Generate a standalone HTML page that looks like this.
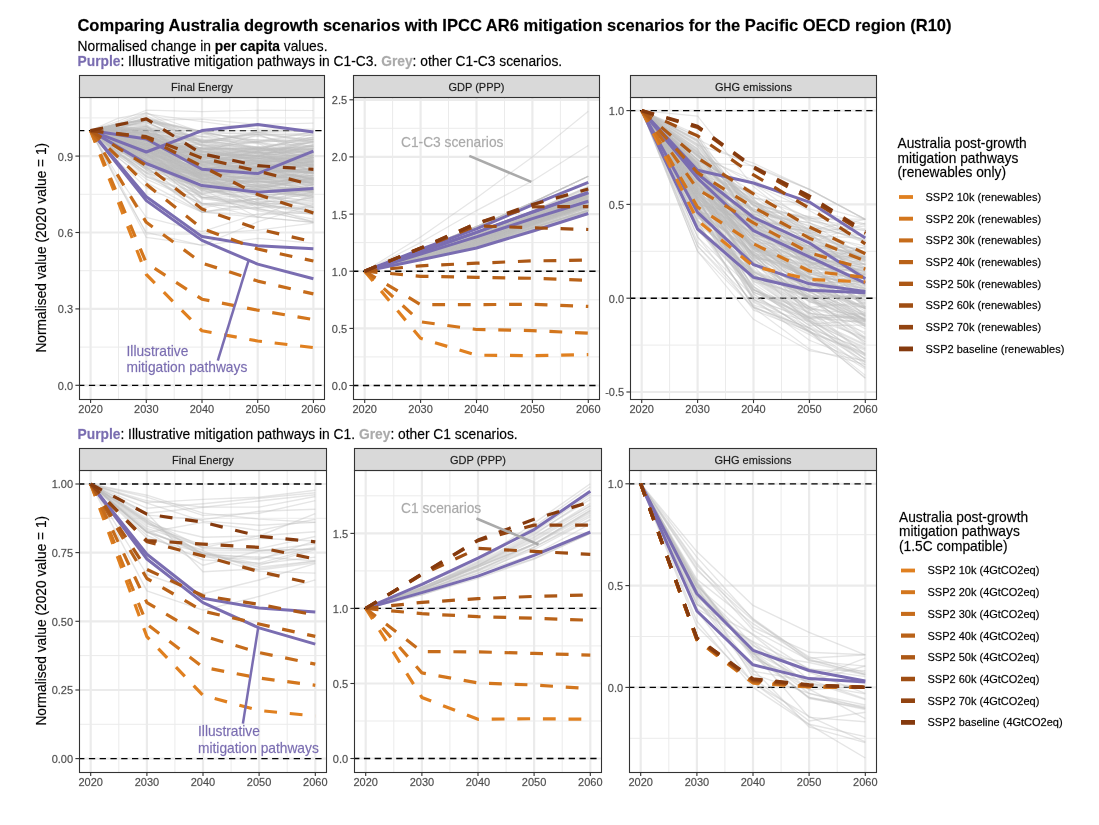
<!DOCTYPE html>
<html><head><meta charset="utf-8"><title>Australia degrowth vs IPCC AR6 scenarios</title>
<style>html,body{margin:0;padding:0;background:#fff;} svg{display:block;} #wrap{will-change:transform;opacity:0.999;} text{font-family:'Liberation Sans', Arial, Helvetica, sans-serif;stroke-width:0.3px;stroke-opacity:0.55;}</style>
</head><body>
<div id="wrap"><svg width="1099" height="825" viewBox="0 0 1099 825">
<rect x="0" y="0" width="1099" height="825" fill="#fff"/>
<defs>
<clipPath id="ctFE"><rect x="79.5" y="97.5" width="245.0" height="302.0"/></clipPath>
<clipPath id="ctGDP"><rect x="353.5" y="97.5" width="246.0" height="302.0"/></clipPath>
<clipPath id="ctGHG"><rect x="630.5" y="97.5" width="246.0" height="302.0"/></clipPath>
<clipPath id="cbFE"><rect x="79.5" y="470.5" width="247.0" height="302.0"/></clipPath>
<clipPath id="cbGDP"><rect x="354.5" y="470.5" width="247.0" height="302.0"/></clipPath>
<clipPath id="cbGHG"><rect x="629.5" y="470.5" width="247.0" height="302.0"/></clipPath>
</defs>
<text x="77.4" y="30.7" font-size="16.55" font-weight="bold" fill="#000" stroke="#000">Comparing Australia degrowth scenarios with IPCC AR6 mitigation scenarios for the Pacific OECD region (R10)</text>
<text x="77.5" y="50.5" font-size="13.8" fill="#000" stroke="#000">Normalised change in <tspan font-weight="bold">per capita</tspan> values.</text>
<text x="77.5" y="66" font-size="13.8" fill="#000" stroke="#000"><tspan font-weight="bold" fill="#7a6db1" stroke="#7a6db1">Purple</tspan>: Illustrative mitigation pathways in C1-C3. <tspan font-weight="bold" fill="#aaaaaa" stroke="#aaaaaa">Grey</tspan>: other C1-C3 scenarios.</text>
<text x="77.5" y="438.9" font-size="13.8" fill="#000" stroke="#000"><tspan font-weight="bold" fill="#7a6db1" stroke="#7a6db1">Purple</tspan>: Illustrative mitigation pathways in C1. <tspan font-weight="bold" fill="#aaaaaa" stroke="#aaaaaa">Grey</tspan>: other C1 scenarios.</text>
<text transform="translate(46,247.7) rotate(-90)" text-anchor="middle" font-size="13.75" fill="#000" stroke="#000">Normalised value (2020 value = 1)</text>
<text transform="translate(46,620.7) rotate(-90)" text-anchor="middle" font-size="13.75" fill="#000" stroke="#000">Normalised value (2020 value = 1)</text>
<g>
<rect x="79.5" y="97.5" width="245.0" height="302.0" fill="#fff"/>
<line x1="79.5" x2="324.5" y1="347.1" y2="347.1" stroke="#ebebeb" stroke-width="1"/><line x1="79.5" x2="324.5" y1="270.7" y2="270.7" stroke="#ebebeb" stroke-width="1"/><line x1="79.5" x2="324.5" y1="194.3" y2="194.3" stroke="#ebebeb" stroke-width="1"/><line x1="79.5" x2="324.5" y1="117.9" y2="117.9" stroke="#ebebeb" stroke-width="1"/><line x1="118.5" x2="118.5" y1="97.5" y2="399.5" stroke="#ebebeb" stroke-width="1"/><line x1="174.2" x2="174.2" y1="97.5" y2="399.5" stroke="#ebebeb" stroke-width="1"/><line x1="229.8" x2="229.8" y1="97.5" y2="399.5" stroke="#ebebeb" stroke-width="1"/><line x1="285.5" x2="285.5" y1="97.5" y2="399.5" stroke="#ebebeb" stroke-width="1"/><line x1="79.5" x2="324.5" y1="385.3" y2="385.3" stroke="#ebebeb" stroke-width="2.2"/><line x1="79.5" x2="324.5" y1="308.9" y2="308.9" stroke="#ebebeb" stroke-width="2.2"/><line x1="79.5" x2="324.5" y1="232.5" y2="232.5" stroke="#ebebeb" stroke-width="2.2"/><line x1="79.5" x2="324.5" y1="156.1" y2="156.1" stroke="#ebebeb" stroke-width="2.2"/><line x1="90.6" x2="90.6" y1="97.5" y2="399.5" stroke="#ebebeb" stroke-width="2.2"/><line x1="146.3" x2="146.3" y1="97.5" y2="399.5" stroke="#ebebeb" stroke-width="2.2"/><line x1="202.0" x2="202.0" y1="97.5" y2="399.5" stroke="#ebebeb" stroke-width="2.2"/><line x1="257.7" x2="257.7" y1="97.5" y2="399.5" stroke="#ebebeb" stroke-width="2.2"/><line x1="313.4" x2="313.4" y1="97.5" y2="399.5" stroke="#ebebeb" stroke-width="2.2"/>
<g clip-path="url(#ctFE)" fill="none" stroke-linejoin="round">
<line x1="78.1" x2="324.5" y1="385.3" y2="385.3" stroke="#000" stroke-width="1.35" stroke-dasharray="6.3 4.48"/>
<line x1="78.1" x2="324.5" y1="130.6" y2="130.6" stroke="#000" stroke-width="1.35" stroke-dasharray="6.3 4.48"/>
<g stroke="#bebebe" stroke-width="1.2" stroke-opacity="0.38">
<polyline points="90.6,130.6 118.5,177.3 146.3,217.3 202.0,231.6 257.7,213.8 313.4,211.4"/><polyline points="90.6,130.6 118.5,184.8 146.3,232.3 202.0,245.4 257.7,238.4 313.4,243.1"/><polyline points="90.6,130.6 118.5,184.3 146.3,237.4 202.0,245.1 257.7,221.9 313.4,204.2"/><polyline points="90.6,130.6 118.5,162.0 146.3,187.6 202.0,212.2 257.7,207.4 313.4,207.7"/><polyline points="90.6,130.6 118.5,181.5 146.3,233.8 202.0,234.2 257.7,230.1 313.4,223.1"/><polyline points="90.6,130.6 118.5,123.7 146.3,120.1 202.0,119.1 257.7,124.5 313.4,123.2"/><polyline points="90.6,130.6 118.5,124.2 146.3,113.9 202.0,121.6 257.7,129.1 313.4,129.1"/><polyline points="90.6,130.6 118.5,121.0 146.3,110.2 202.0,111.7 257.7,110.2 313.4,110.5"/><polyline points="90.6,130.6 118.5,123.6 146.3,120.3 202.0,139.7 257.7,148.6 313.4,136.8"/><polyline points="90.6,130.6 118.5,124.4 146.3,118.4 202.0,132.6 257.7,149.7 313.4,137.1"/><polyline points="90.6,130.6 118.5,124.2 146.3,120.6 202.0,131.7 257.7,134.5 313.4,155.5"/><polyline points="90.6,130.6 118.5,124.6 146.3,118.4 202.0,142.4 257.7,154.1 313.4,163.7"/><polyline points="90.6,130.6 118.5,126.1 146.3,119.1 202.0,131.1 257.7,130.6 313.4,130.6"/><polyline points="90.6,130.6 118.5,123.9 146.3,120.1 202.0,142.0 257.7,131.9 313.4,130.6"/><polyline points="90.6,130.6 118.5,125.6 146.3,117.8 202.0,140.9 257.7,134.7 313.4,135.1"/><polyline points="90.6,130.6 118.5,123.9 146.3,115.6 202.0,141.9 257.7,149.0 313.4,146.5"/><polyline points="90.6,130.6 118.5,122.8 146.3,112.8 202.0,132.5 257.7,140.9 313.4,137.6"/><polyline points="90.6,130.6 118.5,146.3 146.3,165.6 202.0,174.6 257.7,178.5 313.4,182.9"/><polyline points="90.6,130.6 118.5,136.7 146.3,146.5 202.0,170.4 257.7,156.4 313.4,161.2"/><polyline points="90.6,130.6 118.5,137.7 146.3,140.9 202.0,161.6 257.7,168.7 313.4,173.3"/><polyline points="90.6,130.6 118.5,141.5 146.3,153.2 202.0,203.8 257.7,198.6 313.4,211.5"/><polyline points="90.6,130.6 118.5,134.7 146.3,140.5 202.0,168.8 257.7,159.0 313.4,144.3"/><polyline points="90.6,130.6 118.5,143.3 146.3,154.7 202.0,170.6 257.7,158.3 313.4,154.1"/><polyline points="90.6,130.6 118.5,125.1 146.3,120.8 202.0,151.1 257.7,159.7 313.4,166.7"/><polyline points="90.6,130.6 118.5,139.0 146.3,143.7 202.0,158.4 257.7,161.2 313.4,164.4"/><polyline points="90.6,130.6 118.5,134.6 146.3,138.2 202.0,175.0 257.7,177.7 313.4,173.7"/><polyline points="90.6,130.6 118.5,143.4 146.3,150.6 202.0,171.5 257.7,161.5 313.4,155.4"/><polyline points="90.6,130.6 118.5,141.3 146.3,151.2 202.0,149.0 257.7,149.8 313.4,149.6"/><polyline points="90.6,130.6 118.5,128.9 146.3,132.1 202.0,148.4 257.7,147.7 313.4,156.8"/><polyline points="90.6,130.6 118.5,136.3 146.3,137.7 202.0,152.6 257.7,134.5 313.4,151.6"/><polyline points="90.6,130.6 118.5,146.3 146.3,162.2 202.0,190.5 257.7,194.3 313.4,193.9"/><polyline points="90.6,130.6 118.5,131.8 146.3,129.2 202.0,161.6 257.7,161.1 313.4,162.8"/><polyline points="90.6,130.6 118.5,143.8 146.3,156.9 202.0,181.1 257.7,190.1 313.4,187.8"/><polyline points="90.6,130.6 118.5,149.5 146.3,165.8 202.0,194.1 257.7,183.6 313.4,193.4"/><polyline points="90.6,130.6 118.5,154.1 146.3,167.5 202.0,181.3 257.7,186.8 313.4,195.6"/><polyline points="90.6,130.6 118.5,136.9 146.3,136.8 202.0,168.3 257.7,165.1 313.4,183.6"/><polyline points="90.6,130.6 118.5,142.8 146.3,153.8 202.0,187.9 257.7,181.2 313.4,185.3"/><polyline points="90.6,130.6 118.5,154.3 146.3,171.7 202.0,212.1 257.7,202.9 313.4,214.0"/><polyline points="90.6,130.6 118.5,132.5 146.3,132.5 202.0,166.2 257.7,172.2 313.4,171.5"/><polyline points="90.6,130.6 118.5,137.8 146.3,145.9 202.0,171.6 257.7,181.1 313.4,188.4"/><polyline points="90.6,130.6 118.5,129.4 146.3,126.3 202.0,165.1 257.7,166.1 313.4,161.4"/><polyline points="90.6,130.6 118.5,130.2 146.3,135.1 202.0,157.4 257.7,161.3 313.4,167.9"/><polyline points="90.6,130.6 118.5,127.6 146.3,121.7 202.0,151.2 257.7,160.6 313.4,155.7"/><polyline points="90.6,130.6 118.5,135.9 146.3,150.2 202.0,179.7 257.7,195.6 313.4,190.1"/><polyline points="90.6,130.6 118.5,143.7 146.3,159.3 202.0,193.6 257.7,187.1 313.4,190.3"/><polyline points="90.6,130.6 118.5,148.4 146.3,170.1 202.0,192.6 257.7,185.7 313.4,198.4"/><polyline points="90.6,130.6 118.5,138.1 146.3,149.1 202.0,165.9 257.7,158.6 313.4,160.9"/><polyline points="90.6,130.6 118.5,142.1 146.3,161.2 202.0,175.8 257.7,184.9 313.4,185.8"/><polyline points="90.6,130.6 118.5,152.5 146.3,176.5 202.0,203.7 257.7,204.0 313.4,187.5"/><polyline points="90.6,130.6 118.5,128.4 146.3,126.6 202.0,144.8 257.7,153.0 313.4,157.6"/><polyline points="90.6,130.6 118.5,138.7 146.3,148.3 202.0,162.9 257.7,156.8 313.4,141.5"/><polyline points="90.6,130.6 118.5,141.4 146.3,145.3 202.0,162.0 257.7,151.2 313.4,148.8"/><polyline points="90.6,130.6 118.5,136.3 146.3,140.0 202.0,174.6 257.7,189.2 313.4,177.4"/><polyline points="90.6,130.6 118.5,139.9 146.3,141.4 202.0,151.9 257.7,152.6 313.4,152.7"/><polyline points="90.6,130.6 118.5,133.2 146.3,142.4 202.0,161.4 257.7,156.2 313.4,165.3"/><polyline points="90.6,130.6 118.5,145.5 146.3,163.3 202.0,188.3 257.7,189.2 313.4,199.4"/><polyline points="90.6,130.6 118.5,152.9 146.3,172.6 202.0,172.8 257.7,163.3 313.4,165.4"/><polyline points="90.6,130.6 118.5,151.5 146.3,163.0 202.0,181.3 257.7,175.2 313.4,181.2"/><polyline points="90.6,130.6 118.5,142.9 146.3,156.9 202.0,171.8 257.7,193.6 313.4,207.5"/><polyline points="90.6,130.6 118.5,135.7 146.3,140.2 202.0,145.5 257.7,141.5 313.4,154.3"/><polyline points="90.6,130.6 118.5,143.0 146.3,154.5 202.0,151.4 257.7,167.4 313.4,157.7"/><polyline points="90.6,130.6 118.5,137.4 146.3,143.0 202.0,175.7 257.7,162.2 313.4,172.8"/><polyline points="90.6,130.6 118.5,139.0 146.3,141.6 202.0,178.0 257.7,175.2 313.4,175.3"/><polyline points="90.6,130.6 118.5,125.8 146.3,123.1 202.0,142.3 257.7,132.3 313.4,133.8"/><polyline points="90.6,130.6 118.5,130.7 146.3,135.7 202.0,157.1 257.7,163.2 313.4,158.1"/><polyline points="90.6,130.6 118.5,146.5 146.3,149.9 202.0,194.5 257.7,203.8 313.4,222.3"/><polyline points="90.6,130.6 118.5,137.9 146.3,144.4 202.0,160.4 257.7,158.4 313.4,167.0"/><polyline points="90.6,130.6 118.5,141.5 146.3,148.3 202.0,187.4 257.7,205.7 313.4,209.4"/><polyline points="90.6,130.6 118.5,141.3 146.3,149.9 202.0,189.1 257.7,178.7 313.4,175.0"/><polyline points="90.6,130.6 118.5,127.4 146.3,126.1 202.0,173.3 257.7,186.1 313.4,189.1"/><polyline points="90.6,130.6 118.5,129.6 146.3,130.8 202.0,169.4 257.7,170.9 313.4,149.0"/><polyline points="90.6,130.6 118.5,148.5 146.3,158.7 202.0,182.8 257.7,180.4 313.4,192.6"/><polyline points="90.6,130.6 118.5,134.4 146.3,144.8 202.0,154.7 257.7,151.5 313.4,171.9"/><polyline points="90.6,130.6 118.5,138.1 146.3,136.9 202.0,164.1 257.7,169.9 313.4,170.4"/><polyline points="90.6,130.6 118.5,132.0 146.3,136.4 202.0,148.7 257.7,156.0 313.4,159.6"/><polyline points="90.6,130.6 118.5,147.3 146.3,167.3 202.0,207.8 257.7,198.5 313.4,188.5"/><polyline points="90.6,130.6 118.5,135.5 146.3,144.7 202.0,165.1 257.7,152.9 313.4,157.9"/><polyline points="90.6,130.6 118.5,142.4 146.3,150.3 202.0,176.9 257.7,178.7 313.4,184.5"/><polyline points="90.6,130.6 118.5,137.6 146.3,146.5 202.0,164.9 257.7,155.8 313.4,165.0"/><polyline points="90.6,130.6 118.5,147.4 146.3,159.3 202.0,174.9 257.7,172.9 313.4,169.1"/><polyline points="90.6,130.6 118.5,148.2 146.3,159.2 202.0,204.1 257.7,208.6 313.4,222.3"/><polyline points="90.6,130.6 118.5,138.0 146.3,143.6 202.0,147.8 257.7,141.9 313.4,161.1"/><polyline points="90.6,130.6 118.5,133.2 146.3,135.7 202.0,151.6 257.7,155.7 313.4,138.4"/><polyline points="90.6,130.6 118.5,131.2 146.3,139.6 202.0,156.2 257.7,158.5 313.4,166.6"/><polyline points="90.6,130.6 118.5,129.5 146.3,132.1 202.0,172.9 257.7,166.7 313.4,161.6"/><polyline points="90.6,130.6 118.5,133.0 146.3,146.8 202.0,171.8 257.7,168.9 313.4,157.3"/><polyline points="90.6,130.6 118.5,150.1 146.3,163.6 202.0,176.3 257.7,170.6 313.4,171.3"/><polyline points="90.6,130.6 118.5,136.7 146.3,149.1 202.0,178.9 257.7,176.3 313.4,175.8"/><polyline points="90.6,130.6 118.5,135.1 146.3,142.1 202.0,179.8 257.7,182.2 313.4,180.0"/><polyline points="90.6,130.6 118.5,134.0 146.3,138.9 202.0,140.8 257.7,139.5 313.4,142.0"/><polyline points="90.6,130.6 118.5,139.2 146.3,143.3 202.0,154.1 257.7,158.3 313.4,158.9"/><polyline points="90.6,130.6 118.5,141.8 146.3,160.9 202.0,181.0 257.7,193.2 313.4,189.3"/><polyline points="90.6,130.6 118.5,136.2 146.3,144.2 202.0,163.1 257.7,169.1 313.4,184.3"/><polyline points="90.6,130.6 118.5,136.4 146.3,152.8 202.0,171.5 257.7,167.4 313.4,159.4"/><polyline points="90.6,130.6 118.5,139.7 146.3,143.3 202.0,160.5 257.7,175.0 313.4,168.2"/><polyline points="90.6,130.6 118.5,144.7 146.3,160.1 202.0,174.3 257.7,200.9 313.4,202.9"/><polyline points="90.6,130.6 118.5,147.5 146.3,155.1 202.0,162.0 257.7,171.1 313.4,169.5"/><polyline points="90.6,130.6 118.5,149.0 146.3,168.4 202.0,177.7 257.7,168.9 313.4,179.6"/><polyline points="90.6,130.6 118.5,148.0 146.3,167.4 202.0,205.6 257.7,198.9 313.4,192.8"/><polyline points="90.6,130.6 118.5,140.5 146.3,147.7 202.0,170.3 257.7,179.4 313.4,170.7"/><polyline points="90.6,130.6 118.5,138.3 146.3,152.4 202.0,159.3 257.7,165.1 313.4,173.3"/><polyline points="90.6,130.6 118.5,147.8 146.3,160.1 202.0,189.0 257.7,217.2 313.4,194.2"/><polyline points="90.6,130.6 118.5,145.5 146.3,161.3 202.0,181.9 257.7,208.0 313.4,197.1"/><polyline points="90.6,130.6 118.5,137.8 146.3,146.6 202.0,178.3 257.7,181.9 313.4,181.5"/><polyline points="90.6,130.6 118.5,134.2 146.3,134.2 202.0,150.1 257.7,147.4 313.4,139.3"/><polyline points="90.6,130.6 118.5,157.9 146.3,179.1 202.0,203.5 257.7,217.2 313.4,222.3"/><polyline points="90.6,130.6 118.5,147.9 146.3,163.6 202.0,172.8 257.7,168.5 313.4,169.6"/><polyline points="90.6,130.6 118.5,138.3 146.3,139.1 202.0,164.9 257.7,171.5 313.4,171.8"/><polyline points="90.6,130.6 118.5,136.5 146.3,145.4 202.0,142.5 257.7,136.1 313.4,146.9"/><polyline points="90.6,130.6 118.5,145.1 146.3,155.8 202.0,185.0 257.7,189.2 313.4,177.8"/><polyline points="90.6,130.6 118.5,140.0 146.3,149.7 202.0,174.7 257.7,183.3 313.4,177.9"/><polyline points="90.6,130.6 118.5,131.3 146.3,138.7 202.0,159.9 257.7,160.9 313.4,171.0"/><polyline points="90.6,130.6 118.5,144.9 146.3,158.6 202.0,148.9 257.7,141.8 313.4,139.8"/><polyline points="90.6,130.6 118.5,132.5 146.3,134.7 202.0,164.4 257.7,189.4 313.4,187.3"/><polyline points="90.6,130.6 118.5,129.1 146.3,130.4 202.0,136.4 257.7,143.1 313.4,168.7"/><polyline points="90.6,130.6 118.5,136.4 146.3,138.8 202.0,176.0 257.7,167.9 313.4,160.9"/><polyline points="90.6,130.6 118.5,135.1 146.3,143.5 202.0,153.1 257.7,150.9 313.4,145.3"/><polyline points="90.6,130.6 118.5,145.6 146.3,152.8 202.0,186.7 257.7,188.9 313.4,178.4"/><polyline points="90.6,130.6 118.5,134.1 146.3,135.2 202.0,197.2 257.7,204.4 313.4,191.8"/><polyline points="90.6,130.6 118.5,139.7 146.3,145.4 202.0,162.7 257.7,151.8 313.4,162.8"/><polyline points="90.6,130.6 118.5,143.8 146.3,154.4 202.0,179.6 257.7,167.5 313.4,179.7"/><polyline points="90.6,130.6 118.5,139.8 146.3,160.2 202.0,197.3 257.7,196.1 313.4,191.1"/><polyline points="90.6,130.6 118.5,139.3 146.3,149.5 202.0,170.0 257.7,173.1 313.4,167.8"/><polyline points="90.6,130.6 118.5,145.2 146.3,161.7 202.0,177.4 257.7,169.8 313.4,164.4"/><polyline points="90.6,130.6 118.5,138.9 146.3,143.5 202.0,172.9 257.7,184.3 313.4,191.4"/><polyline points="90.6,130.6 118.5,142.1 146.3,154.6 202.0,176.4 257.7,185.9 313.4,174.9"/><polyline points="90.6,130.6 118.5,143.4 146.3,150.1 202.0,157.8 257.7,148.0 313.4,160.2"/><polyline points="90.6,130.6 118.5,139.2 146.3,142.8 202.0,154.0 257.7,156.1 313.4,141.2"/><polyline points="90.6,130.6 118.5,132.7 146.3,132.3 202.0,145.1 257.7,146.9 313.4,162.2"/><polyline points="90.6,130.6 118.5,131.6 146.3,134.1 202.0,162.8 257.7,166.8 313.4,165.1"/><polyline points="90.6,130.6 118.5,139.7 146.3,149.5 202.0,159.6 257.7,155.2 313.4,170.0"/><polyline points="90.6,130.6 118.5,142.1 146.3,152.5 202.0,156.6 257.7,152.4 313.4,150.8"/><polyline points="90.6,130.6 118.5,142.4 146.3,150.4 202.0,179.4 257.7,167.1 313.4,170.9"/><polyline points="90.6,130.6 118.5,131.5 146.3,138.4 202.0,152.9 257.7,155.5 313.4,165.1"/><polyline points="90.6,130.6 118.5,133.6 146.3,132.4 202.0,178.6 257.7,188.3 313.4,171.3"/><polyline points="90.6,130.6 118.5,153.7 146.3,167.1 202.0,182.2 257.7,186.1 313.4,180.0"/><polyline points="90.6,130.6 118.5,127.6 146.3,128.3 202.0,144.4 257.7,149.8 313.4,156.6"/><polyline points="90.6,130.6 118.5,146.6 146.3,154.2 202.0,168.4 257.7,174.2 313.4,171.6"/><polyline points="90.6,130.6 118.5,143.3 146.3,154.8 202.0,198.8 257.7,204.3 313.4,210.7"/><polyline points="90.6,130.6 118.5,140.7 146.3,144.4 202.0,190.9 257.7,192.6 313.4,192.0"/><polyline points="90.6,130.6 118.5,142.8 146.3,147.4 202.0,197.6 257.7,208.4 313.4,219.1"/><polyline points="90.6,130.6 118.5,127.2 146.3,131.1 202.0,148.4 257.7,148.8 313.4,153.7"/><polyline points="90.6,130.6 118.5,134.2 146.3,135.7 202.0,154.7 257.7,158.2 313.4,162.8"/><polyline points="90.6,130.6 118.5,138.2 146.3,146.4 202.0,185.9 257.7,187.0 313.4,182.0"/><polyline points="90.6,130.6 118.5,140.2 146.3,161.3 202.0,183.1 257.7,193.3 313.4,206.8"/><polyline points="90.6,130.6 118.5,143.2 146.3,152.8 202.0,187.6 257.7,202.7 313.4,207.3"/><polyline points="90.6,130.6 118.5,156.2 146.3,173.2 202.0,212.1 257.7,204.5 313.4,214.5"/><polyline points="90.6,130.6 118.5,136.1 146.3,137.6 202.0,180.9 257.7,165.0 313.4,180.7"/><polyline points="90.6,130.6 118.5,143.0 146.3,157.9 202.0,185.9 257.7,202.7 313.4,212.2"/><polyline points="90.6,130.6 118.5,131.0 146.3,133.2 202.0,141.1 257.7,133.8 313.4,135.5"/><polyline points="90.6,130.6 118.5,134.7 146.3,138.4 202.0,169.8 257.7,167.7 313.4,165.9"/><polyline points="90.6,130.6 118.5,139.0 146.3,148.1 202.0,165.8 257.7,176.3 313.4,189.9"/><polyline points="90.6,130.6 118.5,136.6 146.3,141.8 202.0,179.4 257.7,177.6 313.4,176.8"/><polyline points="90.6,130.6 118.5,135.8 146.3,139.6 202.0,157.9 257.7,157.8 313.4,152.7"/><polyline points="90.6,130.6 118.5,145.1 146.3,162.6 202.0,184.4 257.7,180.0 313.4,182.4"/><polyline points="90.6,130.6 118.5,139.9 146.3,145.4 202.0,178.2 257.7,195.1 313.4,201.3"/><polyline points="90.6,130.6 118.5,134.9 146.3,144.6 202.0,148.2 257.7,162.3 313.4,169.7"/><polyline points="90.6,130.6 118.5,126.9 146.3,131.8 202.0,158.2 257.7,159.0 313.4,157.5"/><polyline points="90.6,130.6 118.5,142.2 146.3,153.3 202.0,186.7 257.7,180.8 313.4,189.2"/><polyline points="90.6,130.6 118.5,131.4 146.3,127.3 202.0,151.2 257.7,152.4 313.4,152.4"/><polyline points="90.6,130.6 118.5,138.1 146.3,143.8 202.0,161.5 257.7,176.2 313.4,181.6"/><polyline points="90.6,130.6 118.5,138.8 146.3,139.7 202.0,154.2 257.7,156.5 313.4,139.8"/><polyline points="90.6,130.6 118.5,139.5 146.3,147.7 202.0,161.6 257.7,163.2 313.4,169.4"/><polyline points="90.6,130.6 118.5,137.7 146.3,145.8 202.0,169.3 257.7,163.1 313.4,179.9"/><polyline points="90.6,130.6 118.5,138.9 146.3,150.6 202.0,175.8 257.7,163.1 313.4,156.0"/><polyline points="90.6,130.6 118.5,155.3 146.3,177.0 202.0,194.4 257.7,210.7 313.4,221.1"/><polyline points="90.6,130.6 118.5,125.1 146.3,124.7 202.0,169.7 257.7,161.1 313.4,148.4"/><polyline points="90.6,130.6 118.5,135.1 146.3,141.8 202.0,150.8 257.7,157.2 313.4,159.4"/><polyline points="90.6,130.6 118.5,140.3 146.3,155.5 202.0,180.1 257.7,178.1 313.4,182.8"/><polyline points="90.6,130.6 118.5,141.8 146.3,148.5 202.0,182.0 257.7,184.9 313.4,190.0"/><polyline points="90.6,130.6 118.5,134.2 146.3,137.1 202.0,139.0 257.7,143.7 313.4,145.8"/><polyline points="90.6,130.6 118.5,145.8 146.3,160.2 202.0,170.6 257.7,171.0 313.4,160.8"/><polyline points="90.6,130.6 118.5,134.6 146.3,145.4 202.0,147.8 257.7,149.9 313.4,147.9"/><polyline points="90.6,130.6 118.5,141.1 146.3,149.0 202.0,161.1 257.7,169.7 313.4,172.8"/><polyline points="90.6,130.6 118.5,128.9 146.3,135.0 202.0,162.4 257.7,169.6 313.4,166.4"/><polyline points="90.6,130.6 118.5,147.9 146.3,160.6 202.0,159.2 257.7,173.7 313.4,180.5"/><polyline points="90.6,130.6 118.5,125.7 146.3,125.1 202.0,142.7 257.7,141.3 313.4,131.5"/><polyline points="90.6,130.6 118.5,140.2 146.3,148.0 202.0,177.9 257.7,193.0 313.4,184.5"/><polyline points="90.6,130.6 118.5,137.9 146.3,148.9 202.0,170.9 257.7,167.0 313.4,161.8"/><polyline points="90.6,130.6 118.5,128.0 146.3,120.2 202.0,131.7 257.7,142.5 313.4,139.1"/><polyline points="90.6,130.6 118.5,144.6 146.3,163.2 202.0,181.3 257.7,190.5 313.4,196.3"/><polyline points="90.6,130.6 118.5,130.9 146.3,133.1 202.0,154.9 257.7,164.0 313.4,189.2"/><polyline points="90.6,130.6 118.5,145.3 146.3,164.0 202.0,188.7 257.7,191.0 313.4,196.3"/><polyline points="90.6,130.6 118.5,138.9 146.3,149.4 202.0,176.7 257.7,185.7 313.4,179.5"/><polyline points="90.6,130.6 118.5,155.3 146.3,169.0 202.0,197.0 257.7,201.7 313.4,201.0"/><polyline points="90.6,130.6 118.5,145.6 146.3,157.2 202.0,183.3 257.7,189.5 313.4,190.8"/><polyline points="90.6,130.6 118.5,157.9 146.3,182.4 202.0,212.1 257.7,214.8 313.4,213.0"/><polyline points="90.6,130.6 118.5,129.7 146.3,129.1 202.0,157.4 257.7,157.5 313.4,155.3"/><polyline points="90.6,130.6 118.5,130.9 146.3,129.2 202.0,155.5 257.7,164.3 313.4,157.9"/><polyline points="90.6,130.6 118.5,138.8 146.3,152.3 202.0,173.8 257.7,170.4 313.4,172.4"/><polyline points="90.6,130.6 118.5,137.2 146.3,154.9 202.0,191.5 257.7,197.0 313.4,200.0"/><polyline points="90.6,130.6 118.5,125.6 146.3,122.4 202.0,146.4 257.7,151.3 313.4,155.3"/><polyline points="90.6,130.6 118.5,145.1 146.3,155.3 202.0,171.4 257.7,176.7 313.4,193.0"/><polyline points="90.6,130.6 118.5,131.9 146.3,139.6 202.0,149.2 257.7,148.5 313.4,148.7"/><polyline points="90.6,130.6 118.5,118.1 146.3,112.8 202.0,141.1 257.7,147.2 313.4,153.2"/><polyline points="90.6,130.6 118.5,137.0 146.3,146.8 202.0,181.0 257.7,195.7 313.4,205.8"/><polyline points="90.6,130.6 118.5,135.6 146.3,145.0 202.0,174.2 257.7,174.5 313.4,184.5"/><polyline points="90.6,130.6 118.5,136.5 146.3,138.8 202.0,149.4 257.7,151.6 313.4,141.4"/><polyline points="90.6,130.6 118.5,125.2 146.3,130.0 202.0,136.3 257.7,134.5 313.4,139.3"/><polyline points="90.6,130.6 118.5,145.6 146.3,157.5 202.0,188.0 257.7,199.9 313.4,194.6"/><polyline points="90.6,130.6 118.5,148.4 146.3,165.8 202.0,188.6 257.7,200.1 313.4,184.4"/><polyline points="90.6,130.6 118.5,131.7 146.3,137.9 202.0,170.1 257.7,181.9 313.4,178.5"/><polyline points="90.6,130.6 118.5,143.9 146.3,154.6 202.0,189.6 257.7,192.3 313.4,187.1"/><polyline points="90.6,130.6 118.5,132.1 146.3,126.6 202.0,143.3 257.7,132.9 313.4,142.6"/><polyline points="90.6,130.6 118.5,143.8 146.3,158.1 202.0,186.2 257.7,176.2 313.4,173.3"/><polyline points="90.6,130.6 118.5,146.4 146.3,160.1 202.0,178.6 257.7,182.2 313.4,181.7"/><polyline points="90.6,130.6 118.5,144.4 146.3,160.5 202.0,182.8 257.7,176.4 313.4,182.9"/><polyline points="90.6,130.6 118.5,123.7 146.3,120.4 202.0,132.8 257.7,140.0 313.4,144.1"/><polyline points="90.6,130.6 118.5,146.5 146.3,155.8 202.0,176.0 257.7,183.2 313.4,184.7"/><polyline points="90.6,130.6 118.5,141.9 146.3,141.1 202.0,167.0 257.7,167.1 313.4,172.8"/><polyline points="90.6,130.6 118.5,139.8 146.3,153.2 202.0,167.6 257.7,168.8 313.4,172.5"/><polyline points="90.6,130.6 118.5,127.8 146.3,120.9 202.0,134.5 257.7,132.2 313.4,141.7"/><polyline points="90.6,130.6 118.5,132.9 146.3,132.6 202.0,152.8 257.7,153.4 313.4,148.5"/><polyline points="90.6,130.6 118.5,152.5 146.3,175.6 202.0,198.2 257.7,189.5 313.4,192.2"/><polyline points="90.6,130.6 118.5,128.5 146.3,135.6 202.0,136.9 257.7,147.1 313.4,142.7"/><polyline points="90.6,130.6 118.5,140.9 146.3,154.6 202.0,167.3 257.7,159.9 313.4,145.0"/><polyline points="90.6,130.6 118.5,138.9 146.3,146.1 202.0,174.1 257.7,179.7 313.4,178.8"/><polyline points="90.6,130.6 118.5,127.4 146.3,129.8 202.0,141.3 257.7,150.0 313.4,133.6"/><polyline points="90.6,130.6 118.5,146.6 146.3,160.6 202.0,171.8 257.7,162.8 313.4,155.1"/><polyline points="90.6,130.6 118.5,133.7 146.3,137.9 202.0,157.0 257.7,163.2 313.4,151.3"/><polyline points="90.6,130.6 118.5,136.8 146.3,138.3 202.0,159.7 257.7,147.8 313.4,146.9"/><polyline points="90.6,130.6 118.5,147.0 146.3,159.8 202.0,203.0 257.7,209.7 313.4,214.4"/><polyline points="90.6,130.6 118.5,125.3 146.3,118.2 202.0,145.8 257.7,153.3 313.4,157.0"/><polyline points="90.6,130.6 118.5,128.1 146.3,132.2 202.0,156.5 257.7,168.5 313.4,171.8"/><polyline points="90.6,130.6 118.5,136.8 146.3,141.0 202.0,165.8 257.7,160.5 313.4,160.5"/><polyline points="90.6,130.6 118.5,142.1 146.3,150.6 202.0,154.7 257.7,155.8 313.4,149.9"/><polyline points="90.6,130.6 118.5,138.9 146.3,148.3 202.0,144.1 257.7,161.3 313.4,152.9"/><polyline points="90.6,130.6 118.5,136.8 146.3,145.8 202.0,180.1 257.7,171.9 313.4,177.6"/><polyline points="90.6,130.6 118.5,134.6 146.3,131.2 202.0,160.8 257.7,168.7 313.4,178.4"/><polyline points="90.6,130.6 118.5,152.0 146.3,160.9 202.0,185.3 257.7,178.9 313.4,191.4"/><polyline points="90.6,130.6 118.5,137.3 146.3,149.9 202.0,163.7 257.7,151.2 313.4,146.2"/><polyline points="90.6,130.6 118.5,137.1 146.3,144.6 202.0,155.2 257.7,154.3 313.4,171.0"/><polyline points="90.6,130.6 118.5,144.2 146.3,154.9 202.0,185.9 257.7,186.8 313.4,197.2"/><polyline points="90.6,130.6 118.5,128.7 146.3,129.1 202.0,148.7 257.7,152.5 313.4,165.1"/><polyline points="90.6,130.6 118.5,141.0 146.3,151.6 202.0,173.3 257.7,173.2 313.4,184.0"/><polyline points="90.6,130.6 118.5,140.1 146.3,155.2 202.0,174.9 257.7,175.1 313.4,179.7"/><polyline points="90.6,130.6 118.5,141.4 146.3,155.0 202.0,197.4 257.7,203.0 313.4,203.9"/><polyline points="90.6,130.6 118.5,140.9 146.3,147.3 202.0,167.1 257.7,173.2 313.4,163.1"/><polyline points="90.6,130.6 118.5,140.4 146.3,147.5 202.0,174.6 257.7,177.9 313.4,176.8"/><polyline points="90.6,130.6 118.5,138.1 146.3,146.1 202.0,162.3 257.7,169.7 313.4,186.6"/><polyline points="90.6,130.6 118.5,133.8 146.3,150.3 202.0,182.4 257.7,179.2 313.4,175.5"/><polyline points="90.6,130.6 118.5,129.4 146.3,131.6 202.0,151.1 257.7,150.5 313.4,177.8"/><polyline points="90.6,130.6 118.5,127.4 146.3,134.8 202.0,157.8 257.7,161.6 313.4,161.8"/><polyline points="90.6,130.6 118.5,133.6 146.3,137.9 202.0,151.9 257.7,156.0 313.4,148.3"/><polyline points="90.6,130.6 118.5,139.3 146.3,144.3 202.0,147.8 257.7,149.4 313.4,151.4"/><polyline points="90.6,130.6 118.5,136.2 146.3,146.2 202.0,154.6 257.7,155.4 313.4,146.7"/><polyline points="90.6,130.6 118.5,141.2 146.3,150.9 202.0,190.6 257.7,170.4 313.4,173.6"/><polyline points="90.6,130.6 118.5,147.5 146.3,161.0 202.0,174.4 257.7,168.1 313.4,166.4"/><polyline points="90.6,130.6 118.5,149.6 146.3,169.8 202.0,212.1 257.7,217.2 313.4,222.3"/><polyline points="90.6,130.6 118.5,135.7 146.3,139.0 202.0,171.3 257.7,171.3 313.4,178.7"/><polyline points="90.6,130.6 118.5,133.2 146.3,139.2 202.0,168.7 257.7,171.6 313.4,171.1"/><polyline points="90.6,130.6 118.5,145.8 146.3,156.6 202.0,177.5 257.7,205.5 313.4,197.5"/><polyline points="90.6,130.6 118.5,148.0 146.3,168.8 202.0,188.5 257.7,181.4 313.4,170.4"/><polyline points="90.6,130.6 118.5,141.8 146.3,152.5 202.0,168.5 257.7,164.1 313.4,164.8"/><polyline points="90.6,130.6 118.5,129.5 146.3,133.2 202.0,140.0 257.7,147.8 313.4,150.1"/><polyline points="90.6,130.6 118.5,130.6 146.3,128.8 202.0,131.6 257.7,142.5 313.4,132.1"/><polyline points="90.6,130.6 118.5,151.2 146.3,173.3 202.0,186.2 257.7,186.4 313.4,190.5"/><polyline points="90.6,130.6 118.5,131.7 146.3,137.5 202.0,167.3 257.7,167.2 313.4,179.1"/><polyline points="90.6,130.6 118.5,133.3 146.3,141.6 202.0,164.3 257.7,163.0 313.4,157.2"/><polyline points="90.6,130.6 118.5,130.2 146.3,135.1 202.0,156.0 257.7,167.2 313.4,163.4"/>
</g>
<g stroke="#7a6db1" stroke-width="3.0">
<polyline points="90.6,130.6 146.3,152.0 202.0,130.6 257.7,124.5 313.4,131.9"/><polyline points="90.6,130.6 146.3,139.0 202.0,169.3 257.7,173.6 313.4,151.2"/><polyline points="90.6,130.6 146.3,163.5 202.0,185.6 257.7,192.2 313.4,188.4"/><polyline points="90.6,130.6 146.3,196.8 202.0,236.6 257.7,245.7 313.4,248.8"/><polyline points="90.6,130.6 146.3,200.6 202.0,240.4 257.7,264.1 313.4,278.8"/>
</g>
<polyline points="90.6,130.6 146.3,274.5 202.0,330.8 257.7,341.0 313.4,347.6" stroke="#e08020" stroke-width="3.2" stroke-dasharray="12.8 12.8"/>
<polyline points="90.6,130.6 146.3,263.0 202.0,299.2 257.7,310.2 313.4,319.6" stroke="#d3761d" stroke-width="3.2" stroke-dasharray="12.8 12.8"/>
<polyline points="90.6,130.6 146.3,222.3 202.0,263.0 257.7,281.1 313.4,293.9" stroke="#c66c1b" stroke-width="3.2" stroke-dasharray="12.8 12.8"/>
<polyline points="90.6,130.6 146.3,184.3 202.0,228.4 257.7,249.0 313.4,261.0" stroke="#b96218" stroke-width="3.2" stroke-dasharray="12.8 12.8"/>
<polyline points="90.6,130.6 146.3,165.7 202.0,209.0 257.7,228.9 313.4,241.9" stroke="#ac5816" stroke-width="3.2" stroke-dasharray="12.8 12.8"/>
<polyline points="90.6,130.6 146.3,137.7 202.0,166.3 257.7,194.5 313.4,212.9" stroke="#9f4e13" stroke-width="3.2" stroke-dasharray="12.8 12.8"/>
<polyline points="90.6,130.6 146.3,136.7 202.0,158.1 257.7,171.1 313.4,185.1" stroke="#924411" stroke-width="3.2" stroke-dasharray="12.8 12.8"/>
<polyline points="90.6,130.6 146.3,118.9 202.0,153.8 257.7,165.7 313.4,169.3" stroke="#853a0e" stroke-width="3.2" stroke-dasharray="12.8 12.8"/>
</g>
<rect x="79.5" y="97.5" width="245.0" height="302.0" fill="none" stroke="#333" stroke-width="1.1"/>
<rect x="79.5" y="75.5" width="245.0" height="22.0" fill="#d9d9d9" stroke="#333" stroke-width="1.1"/>
<text x="202.0" y="90.9" text-anchor="middle" font-size="11" fill="#1a1a1a" stroke="#1a1a1a">Final Energy</text>
<line x1="75.4" x2="79.5" y1="385.3" y2="385.3" stroke="#333" stroke-width="1.1"/><text x="73.1" y="389.7" text-anchor="end" font-size="11" fill="#4d4d4d" stroke="#4d4d4d">0.0</text><line x1="75.4" x2="79.5" y1="308.9" y2="308.9" stroke="#333" stroke-width="1.1"/><text x="73.1" y="313.3" text-anchor="end" font-size="11" fill="#4d4d4d" stroke="#4d4d4d">0.3</text><line x1="75.4" x2="79.5" y1="232.5" y2="232.5" stroke="#333" stroke-width="1.1"/><text x="73.1" y="236.9" text-anchor="end" font-size="11" fill="#4d4d4d" stroke="#4d4d4d">0.6</text><line x1="75.4" x2="79.5" y1="156.1" y2="156.1" stroke="#333" stroke-width="1.1"/><text x="73.1" y="160.5" text-anchor="end" font-size="11" fill="#4d4d4d" stroke="#4d4d4d">0.9</text><line x1="90.6" x2="90.6" y1="399.5" y2="403.1" stroke="#333" stroke-width="1.1"/><text x="90.6" y="413.1" text-anchor="middle" font-size="11" fill="#4d4d4d" stroke="#4d4d4d">2020</text><line x1="146.3" x2="146.3" y1="399.5" y2="403.1" stroke="#333" stroke-width="1.1"/><text x="146.3" y="413.1" text-anchor="middle" font-size="11" fill="#4d4d4d" stroke="#4d4d4d">2030</text><line x1="202.0" x2="202.0" y1="399.5" y2="403.1" stroke="#333" stroke-width="1.1"/><text x="202.0" y="413.1" text-anchor="middle" font-size="11" fill="#4d4d4d" stroke="#4d4d4d">2040</text><line x1="257.7" x2="257.7" y1="399.5" y2="403.1" stroke="#333" stroke-width="1.1"/><text x="257.7" y="413.1" text-anchor="middle" font-size="11" fill="#4d4d4d" stroke="#4d4d4d">2050</text><line x1="313.4" x2="313.4" y1="399.5" y2="403.1" stroke="#333" stroke-width="1.1"/><text x="313.4" y="413.1" text-anchor="middle" font-size="11" fill="#4d4d4d" stroke="#4d4d4d">2060</text>
</g>
<g>
<rect x="353.5" y="97.5" width="246.0" height="302.0" fill="#fff"/>
<line x1="353.5" x2="599.5" y1="356.9" y2="356.9" stroke="#ebebeb" stroke-width="1"/><line x1="353.5" x2="599.5" y1="299.8" y2="299.8" stroke="#ebebeb" stroke-width="1"/><line x1="353.5" x2="599.5" y1="242.6" y2="242.6" stroke="#ebebeb" stroke-width="1"/><line x1="353.5" x2="599.5" y1="185.5" y2="185.5" stroke="#ebebeb" stroke-width="1"/><line x1="353.5" x2="599.5" y1="128.3" y2="128.3" stroke="#ebebeb" stroke-width="1"/><line x1="392.6" x2="392.6" y1="97.5" y2="399.5" stroke="#ebebeb" stroke-width="1"/><line x1="448.5" x2="448.5" y1="97.5" y2="399.5" stroke="#ebebeb" stroke-width="1"/><line x1="504.5" x2="504.5" y1="97.5" y2="399.5" stroke="#ebebeb" stroke-width="1"/><line x1="560.4" x2="560.4" y1="97.5" y2="399.5" stroke="#ebebeb" stroke-width="1"/><line x1="353.5" x2="599.5" y1="385.5" y2="385.5" stroke="#ebebeb" stroke-width="2.2"/><line x1="353.5" x2="599.5" y1="328.4" y2="328.4" stroke="#ebebeb" stroke-width="2.2"/><line x1="353.5" x2="599.5" y1="271.2" y2="271.2" stroke="#ebebeb" stroke-width="2.2"/><line x1="353.5" x2="599.5" y1="214.1" y2="214.1" stroke="#ebebeb" stroke-width="2.2"/><line x1="353.5" x2="599.5" y1="156.9" y2="156.9" stroke="#ebebeb" stroke-width="2.2"/><line x1="353.5" x2="599.5" y1="99.8" y2="99.8" stroke="#ebebeb" stroke-width="2.2"/><line x1="364.7" x2="364.7" y1="97.5" y2="399.5" stroke="#ebebeb" stroke-width="2.2"/><line x1="420.6" x2="420.6" y1="97.5" y2="399.5" stroke="#ebebeb" stroke-width="2.2"/><line x1="476.5" x2="476.5" y1="97.5" y2="399.5" stroke="#ebebeb" stroke-width="2.2"/><line x1="532.4" x2="532.4" y1="97.5" y2="399.5" stroke="#ebebeb" stroke-width="2.2"/><line x1="588.3" x2="588.3" y1="97.5" y2="399.5" stroke="#ebebeb" stroke-width="2.2"/>
<g clip-path="url(#ctGDP)" fill="none" stroke-linejoin="round">
<line x1="352.1" x2="599.5" y1="385.5" y2="385.5" stroke="#000" stroke-width="1.35" stroke-dasharray="6.3 4.48"/>
<line x1="352.1" x2="599.5" y1="271.2" y2="271.2" stroke="#000" stroke-width="1.35" stroke-dasharray="6.3 4.48"/>
<g stroke="#bebebe" stroke-width="1.2" stroke-opacity="0.38">
<polyline points="364.7,271.2 476.5,244.8 588.3,210.6"/><polyline points="364.7,271.2 476.5,242.8 588.3,203.2"/><polyline points="364.7,271.2 476.5,238.5 588.3,195.4"/><polyline points="364.7,271.2 476.5,238.9 588.3,203.2"/><polyline points="364.7,271.2 476.5,244.7 588.3,204.6"/><polyline points="364.7,271.2 476.5,245.7 588.3,210.1"/><polyline points="364.7,271.2 476.5,237.9 588.3,197.3"/><polyline points="364.7,271.2 476.5,234.6 588.3,194.3"/><polyline points="364.7,271.2 476.5,235.2 588.3,190.6"/><polyline points="364.7,271.2 476.5,236.2 588.3,192.9"/><polyline points="364.7,271.2 476.5,241.2 588.3,204.8"/><polyline points="364.7,271.2 476.5,241.2 588.3,200.8"/><polyline points="364.7,271.2 476.5,233.9 588.3,188.5"/><polyline points="364.7,271.2 476.5,242.4 588.3,204.2"/><polyline points="364.7,271.2 476.5,235.2 588.3,186.6"/><polyline points="364.7,271.2 476.5,237.8 588.3,196.5"/><polyline points="364.7,271.2 476.5,238.5 588.3,197.9"/><polyline points="364.7,271.2 476.5,243.1 588.3,204.2"/><polyline points="364.7,271.2 476.5,242.0 588.3,202.1"/><polyline points="364.7,271.2 476.5,235.8 588.3,196.0"/><polyline points="364.7,271.2 476.5,242.5 588.3,206.8"/><polyline points="364.7,271.2 476.5,244.8 588.3,207.4"/><polyline points="364.7,271.2 476.5,241.4 588.3,202.6"/><polyline points="364.7,271.2 476.5,245.6 588.3,203.9"/><polyline points="364.7,271.2 476.5,237.7 588.3,192.3"/><polyline points="364.7,271.2 476.5,241.6 588.3,205.2"/><polyline points="364.7,271.2 476.5,245.0 588.3,204.9"/><polyline points="364.7,271.2 476.5,238.8 588.3,198.0"/><polyline points="364.7,271.2 476.5,241.9 588.3,206.4"/><polyline points="364.7,271.2 476.5,242.0 588.3,198.7"/><polyline points="364.7,271.2 476.5,235.6 588.3,190.0"/><polyline points="364.7,271.2 476.5,243.4 588.3,208.4"/><polyline points="364.7,271.2 476.5,238.9 588.3,200.3"/><polyline points="364.7,271.2 476.5,243.1 588.3,209.7"/><polyline points="364.7,271.2 476.5,237.0 588.3,195.1"/><polyline points="364.7,271.2 476.5,236.8 588.3,197.2"/><polyline points="364.7,271.2 476.5,238.8 588.3,196.6"/><polyline points="364.7,271.2 476.5,241.5 588.3,206.5"/><polyline points="364.7,271.2 476.5,237.7 588.3,194.9"/><polyline points="364.7,271.2 476.5,239.3 588.3,200.2"/><polyline points="364.7,271.2 476.5,246.1 588.3,214.1"/><polyline points="364.7,271.2 476.5,246.2 588.3,214.1"/><polyline points="364.7,271.2 476.5,234.4 588.3,194.4"/><polyline points="364.7,271.2 476.5,241.6 588.3,204.2"/><polyline points="364.7,271.2 476.5,244.8 588.3,201.6"/><polyline points="364.7,271.2 476.5,239.0 588.3,196.5"/><polyline points="364.7,271.2 476.5,242.5 588.3,200.7"/><polyline points="364.7,271.2 476.5,241.0 588.3,201.4"/><polyline points="364.7,271.2 476.5,236.9 588.3,193.0"/><polyline points="364.7,271.2 476.5,235.6 588.3,186.6"/><polyline points="364.7,271.2 476.5,241.8 588.3,202.9"/><polyline points="364.7,271.2 476.5,240.7 588.3,206.3"/><polyline points="364.7,271.2 476.5,241.6 588.3,197.1"/><polyline points="364.7,271.2 476.5,238.6 588.3,200.5"/><polyline points="364.7,271.2 476.5,244.7 588.3,210.2"/><polyline points="364.7,271.2 476.5,238.3 588.3,202.7"/><polyline points="364.7,271.2 476.5,240.6 588.3,198.5"/><polyline points="364.7,271.2 476.5,239.4 588.3,204.8"/><polyline points="364.7,271.2 476.5,239.0 588.3,204.1"/><polyline points="364.7,271.2 476.5,245.6 588.3,211.1"/><polyline points="364.7,271.2 476.5,242.9 588.3,202.7"/><polyline points="364.7,271.2 476.5,240.4 588.3,202.5"/><polyline points="364.7,271.2 476.5,245.2 588.3,205.4"/><polyline points="364.7,271.2 476.5,234.4 588.3,192.6"/><polyline points="364.7,271.2 476.5,242.4 588.3,205.6"/><polyline points="364.7,271.2 476.5,245.0 588.3,214.1"/><polyline points="364.7,271.2 476.5,245.5 588.3,209.7"/><polyline points="364.7,271.2 476.5,237.7 588.3,187.4"/><polyline points="364.7,271.2 476.5,242.9 588.3,201.0"/><polyline points="364.7,271.2 476.5,247.8 588.3,213.0"/><polyline points="364.7,271.2 476.5,242.6 588.3,199.5"/><polyline points="364.7,271.2 476.5,241.4 588.3,204.9"/><polyline points="364.7,271.2 476.5,243.7 588.3,202.2"/><polyline points="364.7,271.2 476.5,236.7 588.3,191.6"/><polyline points="364.7,271.2 476.5,239.2 588.3,192.2"/><polyline points="364.7,271.2 476.5,239.1 588.3,190.4"/><polyline points="364.7,271.2 476.5,246.4 588.3,212.3"/><polyline points="364.7,271.2 476.5,241.6 588.3,203.6"/><polyline points="364.7,271.2 476.5,241.5 588.3,204.8"/><polyline points="364.7,271.2 476.5,238.6 588.3,192.7"/><polyline points="364.7,271.2 476.5,245.4 588.3,209.9"/><polyline points="364.7,271.2 476.5,237.2 588.3,196.0"/><polyline points="364.7,271.2 476.5,243.7 588.3,203.4"/><polyline points="364.7,271.2 476.5,239.4 588.3,201.3"/><polyline points="364.7,271.2 476.5,240.8 588.3,205.7"/><polyline points="364.7,271.2 476.5,239.9 588.3,199.8"/><polyline points="364.7,271.2 476.5,240.5 588.3,205.2"/><polyline points="364.7,271.2 476.5,243.6 588.3,200.9"/><polyline points="364.7,271.2 476.5,239.6 588.3,196.0"/><polyline points="364.7,271.2 476.5,237.7 588.3,194.3"/><polyline points="364.7,271.2 476.5,242.5 588.3,205.2"/><polyline points="364.7,271.2 476.5,243.8 588.3,204.3"/><polyline points="364.7,271.2 476.5,239.5 588.3,201.1"/><polyline points="364.7,271.2 476.5,241.0 588.3,200.7"/><polyline points="364.7,271.2 476.5,241.6 588.3,204.7"/><polyline points="364.7,271.2 476.5,238.5 588.3,199.5"/><polyline points="364.7,271.2 476.5,236.5 588.3,198.9"/><polyline points="364.7,271.2 476.5,245.4 588.3,211.2"/><polyline points="364.7,271.2 476.5,237.9 588.3,197.8"/><polyline points="364.7,271.2 476.5,247.1 588.3,211.0"/><polyline points="364.7,271.2 476.5,239.3 588.3,201.5"/><polyline points="364.7,271.2 476.5,241.0 588.3,194.2"/><polyline points="364.7,271.2 476.5,238.6 588.3,200.4"/><polyline points="364.7,271.2 476.5,242.8 588.3,201.0"/><polyline points="364.7,271.2 476.5,245.2 588.3,205.8"/><polyline points="364.7,271.2 476.5,238.3 588.3,193.6"/><polyline points="364.7,271.2 476.5,243.7 588.3,203.9"/><polyline points="364.7,271.2 476.5,243.0 588.3,202.1"/><polyline points="364.7,271.2 476.5,243.8 588.3,207.4"/><polyline points="364.7,271.2 476.5,240.9 588.3,202.7"/><polyline points="364.7,271.2 476.5,238.5 588.3,200.3"/><polyline points="364.7,271.2 476.5,240.7 588.3,201.5"/><polyline points="364.7,271.2 476.5,241.9 588.3,199.8"/><polyline points="364.7,271.2 476.5,238.9 588.3,193.7"/><polyline points="364.7,271.2 476.5,243.5 588.3,211.3"/><polyline points="364.7,271.2 476.5,240.3 588.3,197.1"/><polyline points="364.7,271.2 476.5,236.6 588.3,195.1"/><polyline points="364.7,271.2 476.5,241.3 588.3,196.7"/><polyline points="364.7,271.2 476.5,242.4 588.3,200.1"/><polyline points="364.7,271.2 476.5,243.7 588.3,205.1"/><polyline points="364.7,271.2 476.5,242.6 588.3,206.6"/><polyline points="364.7,271.2 476.5,242.2 588.3,206.2"/><polyline points="364.7,271.2 476.5,241.7 588.3,200.1"/><polyline points="364.7,271.2 476.5,239.3 588.3,200.1"/><polyline points="364.7,271.2 476.5,238.4 588.3,194.0"/><polyline points="364.7,271.2 476.5,235.1 588.3,190.2"/><polyline points="364.7,271.2 476.5,240.3 588.3,193.3"/><polyline points="364.7,271.2 476.5,242.0 588.3,207.9"/><polyline points="364.7,271.2 476.5,240.8 588.3,202.6"/><polyline points="364.7,271.2 476.5,240.6 588.3,193.6"/><polyline points="364.7,271.2 476.5,236.2 588.3,198.4"/><polyline points="364.7,271.2 476.5,238.7 588.3,196.1"/><polyline points="364.7,271.2 476.5,239.5 588.3,197.6"/><polyline points="364.7,271.2 476.5,236.5 588.3,196.3"/><polyline points="364.7,271.2 476.5,240.7 588.3,202.7"/><polyline points="364.7,271.2 476.5,238.9 588.3,199.3"/><polyline points="364.7,271.2 476.5,240.8 588.3,195.9"/><polyline points="364.7,271.2 476.5,236.2 588.3,193.8"/><polyline points="364.7,271.2 476.5,244.5 588.3,208.2"/><polyline points="364.7,271.2 476.5,245.5 588.3,210.5"/><polyline points="364.7,271.2 420.6,236.9 476.5,198.0 532.4,156.9 588.3,111.2"/><polyline points="364.7,271.2 420.6,242.6 476.5,210.6 532.4,180.9 588.3,145.5"/><polyline points="364.7,271.2 420.6,249.5 476.5,226.6 532.4,202.6 588.3,176.3"/><polyline points="364.7,271.2 420.6,249.5 476.5,226.6 532.4,202.6 588.3,176.3"/><polyline points="364.7,271.2 420.6,249.5 476.5,226.6 532.4,202.6 588.3,176.3"/><polyline points="364.7,271.2 420.6,249.5 476.5,226.6 532.4,202.6 588.3,176.3"/><polyline points="364.7,271.2 420.6,249.5 476.5,226.6 532.4,202.6 588.3,176.3"/>
</g>
<g stroke="#7a6db1" stroke-width="3.0">
<polyline points="364.7,271.2 420.6,249.5 476.5,228.9 532.4,204.9 588.3,182.3"/><polyline points="364.7,271.2 420.6,251.8 476.5,232.3 532.4,211.8 588.3,192.3"/><polyline points="364.7,271.2 420.6,251.8 476.5,232.3 532.4,212.3 588.3,192.9"/><polyline points="364.7,271.2 420.6,254.1 476.5,236.9 532.4,218.6 588.3,201.2"/><polyline points="364.7,271.2 420.6,259.8 476.5,248.0 532.4,231.2 588.3,213.5"/>
</g>
<polyline points="364.7,271.2 420.6,338.3 476.5,355.2 532.4,355.6 588.3,354.6" stroke="#e08020" stroke-width="3.2" stroke-dasharray="12.8 12.8"/>
<polyline points="364.7,271.2 420.6,321.8 476.5,329.5 532.4,330.6 588.3,333.2" stroke="#d3761d" stroke-width="3.2" stroke-dasharray="12.8 12.8"/>
<polyline points="364.7,271.2 420.6,304.6 476.5,304.6 532.4,304.3 588.3,306.4" stroke="#c66c1b" stroke-width="3.2" stroke-dasharray="12.8 12.8"/>
<polyline points="364.7,271.2 420.6,276.3 476.5,277.3 532.4,278.3 588.3,280.3" stroke="#b96218" stroke-width="3.2" stroke-dasharray="12.8 12.8"/>
<polyline points="364.7,271.2 420.6,265.8 476.5,263.2 532.4,260.9 588.3,260.1" stroke="#ac5816" stroke-width="3.2" stroke-dasharray="12.8 12.8"/>
<polyline points="364.7,271.2 420.6,248.3 476.5,225.8 532.4,227.8 588.3,229.5" stroke="#9f4e13" stroke-width="3.2" stroke-dasharray="12.8 12.8"/>
<polyline points="364.7,271.2 420.6,248.3 476.5,223.5 532.4,206.8 588.3,206.6" stroke="#924411" stroke-width="3.2" stroke-dasharray="12.8 12.8"/>
<polyline points="364.7,271.2 420.6,248.0 476.5,223.5 532.4,204.6 588.3,189.0" stroke="#853a0e" stroke-width="3.2" stroke-dasharray="12.8 12.8"/>
</g>
<rect x="353.5" y="97.5" width="246.0" height="302.0" fill="none" stroke="#333" stroke-width="1.1"/>
<rect x="353.5" y="75.5" width="246.0" height="22.0" fill="#d9d9d9" stroke="#333" stroke-width="1.1"/>
<text x="476.5" y="90.9" text-anchor="middle" font-size="11" fill="#1a1a1a" stroke="#1a1a1a">GDP (PPP)</text>
<line x1="349.4" x2="353.5" y1="385.5" y2="385.5" stroke="#333" stroke-width="1.1"/><text x="347.1" y="389.9" text-anchor="end" font-size="11" fill="#4d4d4d" stroke="#4d4d4d">0.0</text><line x1="349.4" x2="353.5" y1="328.4" y2="328.4" stroke="#333" stroke-width="1.1"/><text x="347.1" y="332.8" text-anchor="end" font-size="11" fill="#4d4d4d" stroke="#4d4d4d">0.5</text><line x1="349.4" x2="353.5" y1="271.2" y2="271.2" stroke="#333" stroke-width="1.1"/><text x="347.1" y="275.6" text-anchor="end" font-size="11" fill="#4d4d4d" stroke="#4d4d4d">1.0</text><line x1="349.4" x2="353.5" y1="214.1" y2="214.1" stroke="#333" stroke-width="1.1"/><text x="347.1" y="218.5" text-anchor="end" font-size="11" fill="#4d4d4d" stroke="#4d4d4d">1.5</text><line x1="349.4" x2="353.5" y1="156.9" y2="156.9" stroke="#333" stroke-width="1.1"/><text x="347.1" y="161.3" text-anchor="end" font-size="11" fill="#4d4d4d" stroke="#4d4d4d">2.0</text><line x1="349.4" x2="353.5" y1="99.8" y2="99.8" stroke="#333" stroke-width="1.1"/><text x="347.1" y="104.2" text-anchor="end" font-size="11" fill="#4d4d4d" stroke="#4d4d4d">2.5</text><line x1="364.7" x2="364.7" y1="399.5" y2="403.1" stroke="#333" stroke-width="1.1"/><text x="364.7" y="413.1" text-anchor="middle" font-size="11" fill="#4d4d4d" stroke="#4d4d4d">2020</text><line x1="420.6" x2="420.6" y1="399.5" y2="403.1" stroke="#333" stroke-width="1.1"/><text x="420.6" y="413.1" text-anchor="middle" font-size="11" fill="#4d4d4d" stroke="#4d4d4d">2030</text><line x1="476.5" x2="476.5" y1="399.5" y2="403.1" stroke="#333" stroke-width="1.1"/><text x="476.5" y="413.1" text-anchor="middle" font-size="11" fill="#4d4d4d" stroke="#4d4d4d">2040</text><line x1="532.4" x2="532.4" y1="399.5" y2="403.1" stroke="#333" stroke-width="1.1"/><text x="532.4" y="413.1" text-anchor="middle" font-size="11" fill="#4d4d4d" stroke="#4d4d4d">2050</text><line x1="588.3" x2="588.3" y1="399.5" y2="403.1" stroke="#333" stroke-width="1.1"/><text x="588.3" y="413.1" text-anchor="middle" font-size="11" fill="#4d4d4d" stroke="#4d4d4d">2060</text>
</g>
<g>
<rect x="630.5" y="97.5" width="246.0" height="302.0" fill="#fff"/>
<line x1="630.5" x2="876.5" y1="345.1" y2="345.1" stroke="#ebebeb" stroke-width="1"/><line x1="630.5" x2="876.5" y1="251.3" y2="251.3" stroke="#ebebeb" stroke-width="1"/><line x1="630.5" x2="876.5" y1="157.5" y2="157.5" stroke="#ebebeb" stroke-width="1"/><line x1="669.6" x2="669.6" y1="97.5" y2="399.5" stroke="#ebebeb" stroke-width="1"/><line x1="725.5" x2="725.5" y1="97.5" y2="399.5" stroke="#ebebeb" stroke-width="1"/><line x1="781.5" x2="781.5" y1="97.5" y2="399.5" stroke="#ebebeb" stroke-width="1"/><line x1="837.4" x2="837.4" y1="97.5" y2="399.5" stroke="#ebebeb" stroke-width="1"/><line x1="630.5" x2="876.5" y1="392.0" y2="392.0" stroke="#ebebeb" stroke-width="2.2"/><line x1="630.5" x2="876.5" y1="298.2" y2="298.2" stroke="#ebebeb" stroke-width="2.2"/><line x1="630.5" x2="876.5" y1="204.4" y2="204.4" stroke="#ebebeb" stroke-width="2.2"/><line x1="630.5" x2="876.5" y1="110.6" y2="110.6" stroke="#ebebeb" stroke-width="2.2"/><line x1="641.7" x2="641.7" y1="97.5" y2="399.5" stroke="#ebebeb" stroke-width="2.2"/><line x1="697.6" x2="697.6" y1="97.5" y2="399.5" stroke="#ebebeb" stroke-width="2.2"/><line x1="753.5" x2="753.5" y1="97.5" y2="399.5" stroke="#ebebeb" stroke-width="2.2"/><line x1="809.4" x2="809.4" y1="97.5" y2="399.5" stroke="#ebebeb" stroke-width="2.2"/><line x1="865.3" x2="865.3" y1="97.5" y2="399.5" stroke="#ebebeb" stroke-width="2.2"/>
<g clip-path="url(#ctGHG)" fill="none" stroke-linejoin="round">
<line x1="629.1" x2="876.5" y1="298.2" y2="298.2" stroke="#000" stroke-width="1.35" stroke-dasharray="6.3 4.48"/>
<line x1="629.1" x2="876.5" y1="110.6" y2="110.6" stroke="#000" stroke-width="1.35" stroke-dasharray="6.3 4.48"/>
<g stroke="#bebebe" stroke-width="1.2" stroke-opacity="0.38">
<polyline points="641.7,110.6 697.6,221.8 753.5,307.2 809.4,328.1 865.3,367.5"/><polyline points="641.7,110.6 697.6,197.7 753.5,294.3 809.4,331.3 865.3,367.2"/><polyline points="641.7,110.6 697.6,180.3 753.5,274.4 809.4,309.0 865.3,354.5"/><polyline points="641.7,110.6 697.6,221.0 753.5,277.3 809.4,307.1 865.3,338.0"/><polyline points="641.7,110.6 697.6,195.1 753.5,273.9 809.4,307.1 865.3,341.4"/><polyline points="641.7,110.6 697.6,246.0 753.5,307.7 809.4,328.0 865.3,361.5"/><polyline points="641.7,110.6 697.6,236.6 753.5,310.1 809.4,331.3 865.3,355.5"/><polyline points="641.7,110.6 697.6,242.3 753.5,296.5 809.4,330.4 865.3,375.4"/><polyline points="641.7,110.6 697.6,190.6 753.5,283.4 809.4,321.2 865.3,364.9"/><polyline points="641.7,110.6 697.6,206.5 753.5,279.3 809.4,297.9 865.3,344.0"/><polyline points="641.7,110.6 697.6,213.9 753.5,286.4 809.4,320.6 865.3,348.9"/><polyline points="641.7,110.6 697.6,227.4 753.5,305.1 809.4,321.9 865.3,358.8"/><polyline points="641.7,110.6 697.6,213.6 753.5,298.9 809.4,340.2 865.3,362.3"/><polyline points="641.7,110.6 697.6,211.3 753.5,292.3 809.4,316.9 865.3,359.2"/><polyline points="641.7,110.6 697.6,227.4 753.5,289.8 809.4,312.6 865.3,332.3"/><polyline points="641.7,110.6 697.6,208.2 753.5,281.0 809.4,318.3 865.3,344.4"/><polyline points="641.7,110.6 697.6,224.3 753.5,306.3 809.4,331.7 865.3,352.9"/><polyline points="641.7,110.6 697.6,221.9 753.5,307.0 809.4,334.6 865.3,369.0"/><polyline points="641.7,110.6 697.6,188.2 753.5,271.6 809.4,292.3 865.3,319.6"/><polyline points="641.7,110.6 697.6,199.1 753.5,293.7 809.4,331.8 865.3,378.4"/><polyline points="641.7,110.6 697.6,200.9 753.5,300.0 809.4,318.3 865.3,337.2"/><polyline points="641.7,110.6 697.6,199.2 753.5,297.4 809.4,321.5 865.3,362.8"/><polyline points="641.7,110.6 697.6,191.0 753.5,289.7 809.4,319.7 865.3,355.9"/><polyline points="641.7,110.6 697.6,199.1 753.5,288.9 809.4,325.3 865.3,359.0"/><polyline points="641.7,110.6 697.6,197.2 753.5,299.1 809.4,327.5 865.3,350.5"/><polyline points="641.7,110.6 697.6,172.4 753.5,230.2 809.4,259.3 865.3,269.1"/><polyline points="641.7,110.6 697.6,188.5 753.5,208.0 809.4,261.9 865.3,278.7"/><polyline points="641.7,110.6 697.6,208.4 753.5,276.6 809.4,317.1 865.3,313.3"/><polyline points="641.7,110.6 697.6,188.5 753.5,275.6 809.4,314.3 865.3,339.4"/><polyline points="641.7,110.6 697.6,150.6 753.5,206.4 809.4,233.8 865.3,276.9"/><polyline points="641.7,110.6 697.6,180.1 753.5,236.9 809.4,276.9 865.3,295.9"/><polyline points="641.7,110.6 697.6,206.4 753.5,301.1 809.4,331.5 865.3,377.7"/><polyline points="641.7,110.6 697.6,162.8 753.5,203.6 809.4,255.8 865.3,271.7"/><polyline points="641.7,110.6 697.6,197.0 753.5,254.8 809.4,257.3 865.3,282.0"/><polyline points="641.7,110.6 697.6,193.7 753.5,247.2 809.4,266.6 865.3,295.5"/><polyline points="641.7,110.6 697.6,166.6 753.5,245.6 809.4,299.5 865.3,322.3"/><polyline points="641.7,110.6 697.6,173.2 753.5,237.4 809.4,257.8 865.3,267.9"/><polyline points="641.7,110.6 697.6,156.7 753.5,198.4 809.4,203.8 865.3,219.4"/><polyline points="641.7,110.6 697.6,169.2 753.5,255.7 809.4,277.5 865.3,281.6"/><polyline points="641.7,110.6 697.6,173.2 753.5,228.4 809.4,263.2 865.3,273.7"/><polyline points="641.7,110.6 697.6,170.6 753.5,217.7 809.4,262.3 865.3,285.1"/><polyline points="641.7,110.6 697.6,161.3 753.5,211.1 809.4,223.2 865.3,241.8"/><polyline points="641.7,110.6 697.6,176.9 753.5,256.3 809.4,300.6 865.3,318.5"/><polyline points="641.7,110.6 697.6,176.8 753.5,216.0 809.4,246.8 865.3,268.4"/><polyline points="641.7,110.6 697.6,186.0 753.5,223.4 809.4,271.9 865.3,276.2"/><polyline points="641.7,110.6 697.6,134.5 753.5,215.3 809.4,267.3 865.3,272.7"/><polyline points="641.7,110.6 697.6,160.1 753.5,191.6 809.4,218.1 865.3,219.4"/><polyline points="641.7,110.6 697.6,194.0 753.5,242.4 809.4,286.6 865.3,321.4"/><polyline points="641.7,110.6 697.6,185.0 753.5,237.6 809.4,256.3 865.3,257.2"/><polyline points="641.7,110.6 697.6,220.2 753.5,274.1 809.4,313.3 865.3,319.8"/><polyline points="641.7,110.6 697.6,166.8 753.5,202.8 809.4,220.6 865.3,230.7"/><polyline points="641.7,110.6 697.6,154.0 753.5,202.0 809.4,243.4 865.3,256.3"/><polyline points="641.7,110.6 697.6,203.4 753.5,223.1 809.4,247.9 865.3,251.5"/><polyline points="641.7,110.6 697.6,153.6 753.5,219.9 809.4,229.2 865.3,260.2"/><polyline points="641.7,110.6 697.6,162.9 753.5,165.5 809.4,189.4 865.3,219.4"/><polyline points="641.7,110.6 697.6,215.5 753.5,259.5 809.4,297.5 865.3,319.5"/><polyline points="641.7,110.6 697.6,165.0 753.5,234.4 809.4,253.8 865.3,308.2"/><polyline points="641.7,110.6 697.6,163.2 753.5,261.7 809.4,289.2 865.3,315.8"/><polyline points="641.7,110.6 697.6,167.7 753.5,222.7 809.4,258.0 865.3,280.0"/><polyline points="641.7,110.6 697.6,156.1 753.5,220.0 809.4,251.8 865.3,277.3"/><polyline points="641.7,110.6 697.6,140.6 753.5,199.7 809.4,238.8 865.3,259.0"/><polyline points="641.7,110.6 697.6,224.5 753.5,265.2 809.4,284.1 865.3,281.1"/><polyline points="641.7,110.6 697.6,191.5 753.5,215.8 809.4,250.4 865.3,260.4"/><polyline points="641.7,110.6 697.6,146.1 753.5,211.1 809.4,225.3 865.3,240.0"/><polyline points="641.7,110.6 697.6,175.1 753.5,220.0 809.4,246.3 865.3,247.9"/><polyline points="641.7,110.6 697.6,194.2 753.5,257.2 809.4,283.8 865.3,320.0"/><polyline points="641.7,110.6 697.6,228.2 753.5,270.9 809.4,297.0 865.3,337.3"/><polyline points="641.7,110.6 697.6,149.1 753.5,221.0 809.4,264.8 865.3,306.7"/><polyline points="641.7,110.6 697.6,159.9 753.5,213.1 809.4,246.4 865.3,253.4"/><polyline points="641.7,110.6 697.6,182.0 753.5,246.5 809.4,270.8 865.3,290.2"/><polyline points="641.7,110.6 697.6,187.2 753.5,219.9 809.4,231.8 865.3,260.0"/><polyline points="641.7,110.6 697.6,175.8 753.5,248.9 809.4,278.3 865.3,296.0"/><polyline points="641.7,110.6 697.6,170.2 753.5,221.2 809.4,270.1 865.3,302.9"/><polyline points="641.7,110.6 697.6,167.1 753.5,204.8 809.4,228.5 865.3,249.2"/><polyline points="641.7,110.6 697.6,148.6 753.5,205.0 809.4,235.3 865.3,260.8"/><polyline points="641.7,110.6 697.6,174.1 753.5,228.4 809.4,244.2 865.3,280.1"/><polyline points="641.7,110.6 697.6,178.4 753.5,225.7 809.4,254.9 865.3,252.5"/><polyline points="641.7,110.6 697.6,218.1 753.5,241.7 809.4,277.0 865.3,274.6"/><polyline points="641.7,110.6 697.6,174.6 753.5,209.2 809.4,216.3 865.3,224.3"/><polyline points="641.7,110.6 697.6,195.5 753.5,239.3 809.4,292.3 865.3,312.6"/><polyline points="641.7,110.6 697.6,192.0 753.5,265.0 809.4,291.1 865.3,326.6"/><polyline points="641.7,110.6 697.6,215.7 753.5,292.7 809.4,308.8 865.3,315.0"/><polyline points="641.7,110.6 697.6,172.7 753.5,209.2 809.4,217.9 865.3,229.1"/><polyline points="641.7,110.6 697.6,185.1 753.5,210.8 809.4,253.8 865.3,258.6"/><polyline points="641.7,110.6 697.6,193.0 753.5,245.1 809.4,275.9 865.3,308.8"/><polyline points="641.7,110.6 697.6,230.4 753.5,287.0 809.4,328.7 865.3,349.3"/><polyline points="641.7,110.6 697.6,179.8 753.5,215.3 809.4,249.8 865.3,259.5"/><polyline points="641.7,110.6 697.6,174.7 753.5,211.2 809.4,237.2 865.3,251.9"/><polyline points="641.7,110.6 697.6,214.1 753.5,289.8 809.4,318.2 865.3,315.9"/><polyline points="641.7,110.6 697.6,184.2 753.5,243.0 809.4,268.5 865.3,269.9"/><polyline points="641.7,110.6 697.6,183.6 753.5,214.4 809.4,222.6 865.3,257.1"/><polyline points="641.7,110.6 697.6,136.5 753.5,227.8 809.4,287.5 865.3,324.8"/><polyline points="641.7,110.6 697.6,200.9 753.5,246.5 809.4,291.0 865.3,300.8"/><polyline points="641.7,110.6 697.6,186.7 753.5,242.6 809.4,278.2 865.3,274.6"/><polyline points="641.7,110.6 697.6,177.4 753.5,242.8 809.4,245.9 865.3,279.7"/><polyline points="641.7,110.6 697.6,159.4 753.5,200.4 809.4,254.5 865.3,277.7"/><polyline points="641.7,110.6 697.6,166.4 753.5,251.7 809.4,247.9 865.3,265.0"/><polyline points="641.7,110.6 697.6,152.2 753.5,235.1 809.4,264.7 865.3,278.8"/><polyline points="641.7,110.6 697.6,196.8 753.5,246.8 809.4,265.6 865.3,246.4"/><polyline points="641.7,110.6 697.6,192.5 753.5,229.8 809.4,251.9 865.3,261.9"/><polyline points="641.7,110.6 697.6,190.0 753.5,248.2 809.4,277.3 865.3,288.8"/><polyline points="641.7,110.6 697.6,193.3 753.5,247.5 809.4,273.4 865.3,288.3"/><polyline points="641.7,110.6 697.6,144.5 753.5,205.3 809.4,230.1 865.3,219.4"/><polyline points="641.7,110.6 697.6,213.6 753.5,214.4 809.4,255.9 865.3,289.3"/><polyline points="641.7,110.6 697.6,188.1 753.5,235.5 809.4,271.8 865.3,297.2"/><polyline points="641.7,110.6 697.6,220.6 753.5,272.0 809.4,297.9 865.3,295.8"/><polyline points="641.7,110.6 697.6,143.7 753.5,214.0 809.4,236.0 865.3,252.2"/><polyline points="641.7,110.6 697.6,191.6 753.5,238.4 809.4,263.2 865.3,295.4"/><polyline points="641.7,110.6 697.6,178.0 753.5,225.4 809.4,246.4 865.3,267.2"/><polyline points="641.7,110.6 697.6,199.5 753.5,225.4 809.4,253.6 865.3,294.3"/><polyline points="641.7,110.6 697.6,194.8 753.5,254.0 809.4,281.4 865.3,316.7"/><polyline points="641.7,110.6 697.6,166.6 753.5,199.0 809.4,251.9 865.3,268.9"/><polyline points="641.7,110.6 697.6,200.5 753.5,247.3 809.4,278.1 865.3,311.2"/><polyline points="641.7,110.6 697.6,185.0 753.5,227.4 809.4,274.8 865.3,315.2"/><polyline points="641.7,110.6 697.6,186.9 753.5,245.7 809.4,280.6 865.3,292.9"/><polyline points="641.7,110.6 697.6,200.5 753.5,276.4 809.4,292.0 865.3,281.3"/><polyline points="641.7,110.6 697.6,163.9 753.5,242.0 809.4,282.7 865.3,288.0"/><polyline points="641.7,110.6 697.6,184.2 753.5,219.9 809.4,243.0 865.3,223.0"/><polyline points="641.7,110.6 697.6,199.5 753.5,281.6 809.4,296.2 865.3,339.1"/><polyline points="641.7,110.6 697.6,173.9 753.5,193.3 809.4,235.7 865.3,238.2"/><polyline points="641.7,110.6 697.6,164.6 753.5,217.6 809.4,243.0 865.3,257.2"/><polyline points="641.7,110.6 697.6,210.3 753.5,252.4 809.4,277.1 865.3,320.8"/><polyline points="641.7,110.6 697.6,192.2 753.5,254.6 809.4,290.7 865.3,326.0"/><polyline points="641.7,110.6 697.6,183.8 753.5,243.9 809.4,261.7 865.3,316.8"/><polyline points="641.7,110.6 697.6,214.6 753.5,275.8 809.4,301.3 865.3,320.7"/><polyline points="641.7,110.6 697.6,190.9 753.5,238.8 809.4,281.9 865.3,313.3"/><polyline points="641.7,110.6 697.6,179.7 753.5,233.6 809.4,266.1 865.3,282.0"/><polyline points="641.7,110.6 697.6,167.2 753.5,237.9 809.4,274.3 865.3,267.5"/><polyline points="641.7,110.6 697.6,179.2 753.5,215.6 809.4,251.6 865.3,264.3"/><polyline points="641.7,110.6 697.6,170.5 753.5,225.4 809.4,267.8 865.3,305.3"/><polyline points="641.7,110.6 697.6,173.6 753.5,202.1 809.4,232.3 865.3,279.3"/><polyline points="641.7,110.6 697.6,194.6 753.5,249.7 809.4,312.1 865.3,354.7"/><polyline points="641.7,110.6 697.6,162.0 753.5,222.8 809.4,235.6 865.3,277.4"/><polyline points="641.7,110.6 697.6,155.4 753.5,180.2 809.4,208.8 865.3,224.0"/><polyline points="641.7,110.6 697.6,179.3 753.5,223.4 809.4,286.4 865.3,290.3"/><polyline points="641.7,110.6 697.6,141.9 753.5,210.5 809.4,240.8 865.3,264.7"/><polyline points="641.7,110.6 697.6,159.5 753.5,201.4 809.4,226.8 865.3,262.2"/><polyline points="641.7,110.6 697.6,154.6 753.5,218.6 809.4,233.2 865.3,225.8"/><polyline points="641.7,110.6 697.6,141.1 753.5,225.0 809.4,262.1 865.3,285.2"/><polyline points="641.7,110.6 697.6,185.6 753.5,251.7 809.4,297.9 865.3,326.6"/><polyline points="641.7,110.6 697.6,190.9 753.5,254.4 809.4,277.7 865.3,293.8"/><polyline points="641.7,110.6 697.6,204.5 753.5,216.8 809.4,233.3 865.3,253.4"/><polyline points="641.7,110.6 697.6,196.9 753.5,263.8 809.4,286.8 865.3,308.5"/><polyline points="641.7,110.6 697.6,188.8 753.5,272.6 809.4,297.8 865.3,315.4"/><polyline points="641.7,110.6 697.6,149.5 753.5,234.3 809.4,249.4 865.3,288.8"/><polyline points="641.7,110.6 697.6,203.5 753.5,242.1 809.4,261.5 865.3,293.9"/><polyline points="641.7,110.6 697.6,203.4 753.5,271.2 809.4,307.1 865.3,321.6"/><polyline points="641.7,110.6 697.6,166.2 753.5,262.0 809.4,313.5 865.3,318.3"/><polyline points="641.7,110.6 697.6,170.8 753.5,220.4 809.4,249.0 865.3,258.3"/><polyline points="641.7,110.6 697.6,164.0 753.5,204.9 809.4,219.0 865.3,237.2"/><polyline points="641.7,110.6 697.6,169.5 753.5,249.1 809.4,288.4 865.3,292.8"/><polyline points="641.7,110.6 697.6,199.7 753.5,262.7 809.4,296.7 865.3,325.0"/><polyline points="641.7,110.6 697.6,145.0 753.5,163.1 809.4,189.4 865.3,219.4"/><polyline points="641.7,110.6 697.6,203.5 753.5,291.7 809.4,321.1 865.3,347.5"/><polyline points="641.7,110.6 697.6,182.3 753.5,245.9 809.4,281.6 865.3,307.2"/><polyline points="641.7,110.6 697.6,210.7 753.5,231.9 809.4,261.3 865.3,290.7"/><polyline points="641.7,110.6 697.6,183.3 753.5,237.1 809.4,281.7 865.3,309.0"/><polyline points="641.7,110.6 697.6,200.3 753.5,260.4 809.4,288.2 865.3,306.6"/><polyline points="641.7,110.6 697.6,179.1 753.5,247.0 809.4,277.4 865.3,300.0"/><polyline points="641.7,110.6 697.6,176.4 753.5,229.5 809.4,252.6 865.3,274.2"/><polyline points="641.7,110.6 697.6,166.3 753.5,252.9 809.4,315.9 865.3,323.4"/><polyline points="641.7,110.6 697.6,193.0 753.5,269.7 809.4,294.9 865.3,314.3"/><polyline points="641.7,110.6 697.6,207.8 753.5,276.1 809.4,287.6 865.3,320.1"/><polyline points="641.7,110.6 697.6,197.3 753.5,258.8 809.4,302.3 865.3,307.3"/><polyline points="641.7,110.6 697.6,179.9 753.5,276.8 809.4,289.1 865.3,308.6"/><polyline points="641.7,110.6 697.6,225.4 753.5,289.1 809.4,317.4 865.3,318.2"/><polyline points="641.7,110.6 697.6,205.9 753.5,286.4 809.4,325.7 865.3,325.2"/><polyline points="641.7,110.6 697.6,157.3 753.5,197.1 809.4,217.3 865.3,240.8"/><polyline points="641.7,110.6 697.6,179.8 753.5,246.8 809.4,291.6 865.3,299.6"/><polyline points="641.7,110.6 697.6,163.7 753.5,226.4 809.4,235.3 865.3,264.6"/><polyline points="641.7,110.6 697.6,152.7 753.5,184.1 809.4,210.4 865.3,242.6"/><polyline points="641.7,110.6 697.6,155.3 753.5,205.5 809.4,233.1 865.3,246.1"/><polyline points="641.7,110.6 697.6,206.9 753.5,266.0 809.4,324.1 865.3,320.5"/><polyline points="641.7,110.6 697.6,177.8 753.5,217.2 809.4,267.5 865.3,260.4"/><polyline points="641.7,110.6 697.6,155.4 753.5,220.7 809.4,240.1 865.3,253.0"/><polyline points="641.7,110.6 697.6,175.6 753.5,264.8 809.4,299.0 865.3,334.3"/><polyline points="641.7,110.6 697.6,151.2 753.5,210.1 809.4,241.2 865.3,257.8"/><polyline points="641.7,110.6 697.6,137.3 753.5,218.8 809.4,262.2 865.3,269.9"/><polyline points="641.7,110.6 697.6,183.9 753.5,255.3 809.4,283.5 865.3,280.7"/><polyline points="641.7,110.6 697.6,213.4 753.5,279.2 809.4,319.8 865.3,345.4"/><polyline points="641.7,110.6 697.6,139.3 753.5,166.9 809.4,189.4 865.3,219.4"/><polyline points="641.7,110.6 697.6,156.0 753.5,197.1 809.4,231.0 865.3,253.4"/><polyline points="641.7,110.6 697.6,188.7 753.5,229.9 809.4,256.1 865.3,272.3"/><polyline points="641.7,110.6 697.6,159.5 753.5,210.9 809.4,228.7 865.3,230.0"/><polyline points="641.7,110.6 697.6,188.5 753.5,254.8 809.4,274.1 865.3,285.9"/><polyline points="641.7,110.6 697.6,164.7 753.5,226.4 809.4,283.6 865.3,308.3"/><polyline points="641.7,110.6 697.6,162.1 753.5,258.6 809.4,264.5 865.3,255.9"/><polyline points="641.7,110.6 697.6,196.5 753.5,255.5 809.4,301.3 865.3,328.8"/><polyline points="641.7,110.6 697.6,190.6 753.5,220.2 809.4,255.3 865.3,268.5"/><polyline points="641.7,110.6 697.6,201.4 753.5,234.5 809.4,273.8 865.3,286.6"/><polyline points="641.7,110.6 697.6,173.1 753.5,227.6 809.4,247.7 865.3,257.4"/><polyline points="641.7,110.6 697.6,193.1 753.5,248.0 809.4,268.9 865.3,295.0"/><polyline points="641.7,110.6 697.6,202.4 753.5,263.0 809.4,294.6 865.3,320.4"/><polyline points="641.7,110.6 697.6,251.3 753.5,319.3 809.4,350.7 865.3,360.6"/><polyline points="641.7,110.6 697.6,187.3 753.5,235.7 809.4,245.9 865.3,306.9"/><polyline points="641.7,110.6 697.6,184.1 753.5,247.8 809.4,261.7 865.3,271.0"/><polyline points="641.7,110.6 697.6,237.2 753.5,290.4 809.4,308.0 865.3,323.7"/><polyline points="641.7,110.6 697.6,169.8 753.5,250.0 809.4,279.5 865.3,278.6"/><polyline points="641.7,110.6 697.6,192.5 753.5,257.8 809.4,310.7 865.3,289.2"/><polyline points="641.7,110.6 697.6,211.2 753.5,252.4 809.4,278.9 865.3,303.7"/><polyline points="641.7,110.6 697.6,146.5 753.5,211.8 809.4,259.3 865.3,264.7"/><polyline points="641.7,110.6 697.6,200.6 753.5,224.0 809.4,242.2 865.3,267.4"/><polyline points="641.7,110.6 697.6,181.1 753.5,272.7 809.4,296.9 865.3,296.8"/><polyline points="641.7,110.6 697.6,168.4 753.5,183.9 809.4,222.8 865.3,242.7"/><polyline points="641.7,110.6 697.6,215.9 753.5,278.2 809.4,309.0 865.3,342.1"/><polyline points="641.7,110.6 697.6,188.7 753.5,231.5 809.4,259.3 865.3,271.6"/><polyline points="641.7,110.6 697.6,207.8 753.5,278.1 809.4,318.4 865.3,321.7"/><polyline points="641.7,110.6 697.6,196.5 753.5,228.9 809.4,250.3 865.3,254.1"/><polyline points="641.7,110.6 697.6,183.3 753.5,248.6 809.4,295.8 865.3,295.8"/><polyline points="641.7,110.6 697.6,201.9 753.5,232.6 809.4,259.4 865.3,284.9"/><polyline points="641.7,110.6 697.6,205.0 753.5,257.0 809.4,271.1 865.3,263.5"/><polyline points="641.7,110.6 697.6,196.5 753.5,264.2 809.4,286.6 865.3,273.6"/><polyline points="641.7,110.6 697.6,208.1 753.5,254.2 809.4,307.2 865.3,302.8"/><polyline points="641.7,110.6 697.6,116.2 753.5,186.6 809.4,230.4 865.3,258.0"/><polyline points="641.7,110.6 697.6,245.9 753.5,302.2 809.4,332.6 865.3,354.0"/><polyline points="641.7,110.6 697.6,152.1 753.5,203.1 809.4,219.7 865.3,240.7"/><polyline points="641.7,110.6 697.6,179.1 753.5,239.9 809.4,261.4 865.3,274.6"/><polyline points="641.7,110.6 697.6,251.3 753.5,307.8 809.4,349.0 865.3,364.6"/><polyline points="641.7,110.6 697.6,184.4 753.5,249.0 809.4,272.5 865.3,283.5"/><polyline points="641.7,110.6 697.6,140.2 753.5,226.1 809.4,230.4 865.3,236.0"/>
</g>
<g stroke="#7a6db1" stroke-width="3.0">
<polyline points="641.7,110.6 697.6,170.3 753.5,183.0 809.4,202.1 865.3,238.0"/><polyline points="641.7,110.6 697.6,174.0 753.5,217.5 809.4,243.0 865.3,278.7"/><polyline points="641.7,110.6 697.6,178.1 753.5,230.7 809.4,256.9 865.3,283.2"/><polyline points="641.7,110.6 697.6,212.3 753.5,264.6 809.4,283.8 865.3,291.4"/><polyline points="641.7,110.6 697.6,229.0 753.5,277.4 809.4,290.3 865.3,292.8"/>
</g>
<polyline points="641.7,110.6 697.6,220.5 753.5,266.3 809.4,279.4 865.3,281.9" stroke="#e08020" stroke-width="3.2" stroke-dasharray="12.8 12.8"/>
<polyline points="641.7,110.6 697.6,207.2 753.5,243.8 809.4,271.0 865.3,277.4" stroke="#d3761d" stroke-width="3.2" stroke-dasharray="12.8 12.8"/>
<polyline points="641.7,110.6 697.6,189.2 753.5,222.8 809.4,252.8 865.3,269.1" stroke="#c66c1b" stroke-width="3.2" stroke-dasharray="12.8 12.8"/>
<polyline points="641.7,110.6 697.6,172.7 753.5,207.2 809.4,238.2 865.3,261.1" stroke="#b96218" stroke-width="3.2" stroke-dasharray="12.8 12.8"/>
<polyline points="641.7,110.6 697.6,157.9 753.5,193.9 809.4,226.9 865.3,253.7" stroke="#ac5816" stroke-width="3.2" stroke-dasharray="12.8 12.8"/>
<polyline points="641.7,110.6 697.6,135.9 753.5,174.9 809.4,208.2 865.3,243.8" stroke="#9f4e13" stroke-width="3.2" stroke-dasharray="12.8 12.8"/>
<polyline points="641.7,110.6 697.6,127.5 753.5,167.8 809.4,198.8 865.3,233.5" stroke="#924411" stroke-width="3.2" stroke-dasharray="12.8 12.8"/>
<polyline points="641.7,110.6 697.6,126.2 753.5,166.9 809.4,196.0 865.3,231.6" stroke="#853a0e" stroke-width="3.2" stroke-dasharray="12.8 12.8"/>
</g>
<rect x="630.5" y="97.5" width="246.0" height="302.0" fill="none" stroke="#333" stroke-width="1.1"/>
<rect x="630.5" y="75.5" width="246.0" height="22.0" fill="#d9d9d9" stroke="#333" stroke-width="1.1"/>
<text x="753.5" y="90.9" text-anchor="middle" font-size="11" fill="#1a1a1a" stroke="#1a1a1a">GHG emissions</text>
<line x1="626.4" x2="630.5" y1="392.0" y2="392.0" stroke="#333" stroke-width="1.1"/><text x="624.1" y="396.4" text-anchor="end" font-size="11" fill="#4d4d4d" stroke="#4d4d4d">-0.5</text><line x1="626.4" x2="630.5" y1="298.2" y2="298.2" stroke="#333" stroke-width="1.1"/><text x="624.1" y="302.6" text-anchor="end" font-size="11" fill="#4d4d4d" stroke="#4d4d4d">0.0</text><line x1="626.4" x2="630.5" y1="204.4" y2="204.4" stroke="#333" stroke-width="1.1"/><text x="624.1" y="208.8" text-anchor="end" font-size="11" fill="#4d4d4d" stroke="#4d4d4d">0.5</text><line x1="626.4" x2="630.5" y1="110.6" y2="110.6" stroke="#333" stroke-width="1.1"/><text x="624.1" y="115.0" text-anchor="end" font-size="11" fill="#4d4d4d" stroke="#4d4d4d">1.0</text><line x1="641.7" x2="641.7" y1="399.5" y2="403.1" stroke="#333" stroke-width="1.1"/><text x="641.7" y="413.1" text-anchor="middle" font-size="11" fill="#4d4d4d" stroke="#4d4d4d">2020</text><line x1="697.6" x2="697.6" y1="399.5" y2="403.1" stroke="#333" stroke-width="1.1"/><text x="697.6" y="413.1" text-anchor="middle" font-size="11" fill="#4d4d4d" stroke="#4d4d4d">2030</text><line x1="753.5" x2="753.5" y1="399.5" y2="403.1" stroke="#333" stroke-width="1.1"/><text x="753.5" y="413.1" text-anchor="middle" font-size="11" fill="#4d4d4d" stroke="#4d4d4d">2040</text><line x1="809.4" x2="809.4" y1="399.5" y2="403.1" stroke="#333" stroke-width="1.1"/><text x="809.4" y="413.1" text-anchor="middle" font-size="11" fill="#4d4d4d" stroke="#4d4d4d">2050</text><line x1="865.3" x2="865.3" y1="399.5" y2="403.1" stroke="#333" stroke-width="1.1"/><text x="865.3" y="413.1" text-anchor="middle" font-size="11" fill="#4d4d4d" stroke="#4d4d4d">2060</text>
</g>
<g>
<rect x="79.5" y="470.5" width="247.0" height="302.0" fill="#fff"/>
<line x1="79.5" x2="326.5" y1="724.3" y2="724.3" stroke="#ebebeb" stroke-width="1"/><line x1="79.5" x2="326.5" y1="655.6" y2="655.6" stroke="#ebebeb" stroke-width="1"/><line x1="79.5" x2="326.5" y1="587.0" y2="587.0" stroke="#ebebeb" stroke-width="1"/><line x1="79.5" x2="326.5" y1="518.3" y2="518.3" stroke="#ebebeb" stroke-width="1"/><line x1="118.8" x2="118.8" y1="470.5" y2="772.5" stroke="#ebebeb" stroke-width="1"/><line x1="174.9" x2="174.9" y1="470.5" y2="772.5" stroke="#ebebeb" stroke-width="1"/><line x1="231.1" x2="231.1" y1="470.5" y2="772.5" stroke="#ebebeb" stroke-width="1"/><line x1="287.2" x2="287.2" y1="470.5" y2="772.5" stroke="#ebebeb" stroke-width="1"/><line x1="79.5" x2="326.5" y1="758.6" y2="758.6" stroke="#ebebeb" stroke-width="2.2"/><line x1="79.5" x2="326.5" y1="690.0" y2="690.0" stroke="#ebebeb" stroke-width="2.2"/><line x1="79.5" x2="326.5" y1="621.3" y2="621.3" stroke="#ebebeb" stroke-width="2.2"/><line x1="79.5" x2="326.5" y1="552.6" y2="552.6" stroke="#ebebeb" stroke-width="2.2"/><line x1="79.5" x2="326.5" y1="484.0" y2="484.0" stroke="#ebebeb" stroke-width="2.2"/><line x1="90.7" x2="90.7" y1="470.5" y2="772.5" stroke="#ebebeb" stroke-width="2.2"/><line x1="146.9" x2="146.9" y1="470.5" y2="772.5" stroke="#ebebeb" stroke-width="2.2"/><line x1="203.0" x2="203.0" y1="470.5" y2="772.5" stroke="#ebebeb" stroke-width="2.2"/><line x1="259.1" x2="259.1" y1="470.5" y2="772.5" stroke="#ebebeb" stroke-width="2.2"/><line x1="315.3" x2="315.3" y1="470.5" y2="772.5" stroke="#ebebeb" stroke-width="2.2"/>
<g clip-path="url(#cbFE)" fill="none" stroke-linejoin="round">
<line x1="78.1" x2="326.5" y1="758.6" y2="758.6" stroke="#000" stroke-width="1.35" stroke-dasharray="6.3 4.48"/>
<line x1="78.1" x2="326.5" y1="484.0" y2="484.0" stroke="#000" stroke-width="1.35" stroke-dasharray="6.3 4.48"/>
<g stroke="#bebebe" stroke-width="1.4" stroke-opacity="0.4">
<polyline points="90.7,484.0 146.9,590.9 203.0,610.1 259.1,596.4 315.3,579.9"/><polyline points="90.7,484.0 146.9,574.5 203.0,593.8 259.1,580.0 315.3,563.6"/><polyline points="90.7,484.0 146.9,502.6 203.0,499.4 259.1,497.2 315.3,490.3"/><polyline points="90.7,484.0 146.9,500.8 203.0,507.1 259.1,507.1 315.3,496.5"/><polyline points="90.7,484.0 146.9,508.2 203.0,503.8 259.1,498.2 315.3,492.8"/><polyline points="90.7,484.0 146.9,497.1 203.0,515.4 259.1,513.3 315.3,500.6"/><polyline points="90.7,484.0 146.9,503.1 203.0,521.1 259.1,525.2 315.3,522.4"/><polyline points="90.7,484.0 146.9,513.3 203.0,507.3 259.1,501.0 315.3,494.8"/><polyline points="90.7,484.0 146.9,515.1 203.0,519.6 259.1,511.3 315.3,509.3"/><polyline points="90.7,484.0 146.9,495.2 203.0,513.1 259.1,519.1 315.3,522.4"/><polyline points="90.7,484.0 146.9,529.7 203.0,555.4 259.1,571.4 315.3,573.1"/><polyline points="90.7,484.0 146.9,526.1 203.0,544.9 259.1,538.3 315.3,541.0"/><polyline points="90.7,484.0 146.9,524.3 203.0,537.2 259.1,536.0 315.3,513.7"/><polyline points="90.7,484.0 146.9,532.4 203.0,549.9 259.1,550.7 315.3,549.0"/><polyline points="90.7,484.0 146.9,528.4 203.0,547.0 259.1,550.1 315.3,549.3"/><polyline points="90.7,484.0 146.9,532.1 203.0,550.8 259.1,570.1 315.3,562.8"/><polyline points="90.7,484.0 146.9,538.3 203.0,552.9 259.1,567.3 315.3,560.9"/><polyline points="90.7,484.0 146.9,531.5 203.0,553.0 259.1,563.7 315.3,557.1"/><polyline points="90.7,484.0 146.9,512.9 203.0,571.8 259.1,568.9 315.3,561.3"/><polyline points="90.7,484.0 146.9,531.5 203.0,565.3 259.1,551.0 315.3,543.7"/><polyline points="90.7,484.0 146.9,518.5 203.0,554.4 259.1,565.3 315.3,549.6"/><polyline points="90.7,484.0 146.9,521.0 203.0,553.5 259.1,558.5 315.3,547.2"/><polyline points="90.7,484.0 146.9,535.4 203.0,559.9 259.1,563.1 315.3,548.1"/><polyline points="90.7,484.0 146.9,519.8 203.0,547.6 259.1,535.8 315.3,531.7"/><polyline points="90.7,484.0 146.9,532.5 203.0,522.4 259.1,530.4 315.3,519.3"/><polyline points="90.7,484.0 146.9,522.7 203.0,548.4 259.1,548.6 315.3,536.5"/><polyline points="90.7,484.0 146.9,522.7 203.0,556.8 259.1,559.5 315.3,540.9"/><polyline points="90.7,484.0 146.9,521.0 203.0,555.0 259.1,557.0 315.3,560.7"/>
</g>
<g stroke="#7a6db1" stroke-width="3.0">
<polyline points="90.7,484.0 146.9,554.3 203.0,598.2 259.1,608.1 315.3,612.0"/><polyline points="90.7,484.0 146.9,559.0 203.0,602.6 259.1,627.9 315.3,644.1"/>
</g>
<polyline points="90.7,484.0 146.9,636.7 203.0,695.4 259.1,710.5 315.3,716.0" stroke="#e08020" stroke-width="3.2" stroke-dasharray="12.8 12.8"/>
<polyline points="90.7,484.0 146.9,624.0 203.0,667.2 259.1,678.1 315.3,685.3" stroke="#d3761d" stroke-width="3.2" stroke-dasharray="12.8 12.8"/>
<polyline points="90.7,484.0 146.9,602.6 203.0,635.9 259.1,652.6 315.3,664.1" stroke="#c66c1b" stroke-width="3.2" stroke-dasharray="12.8 12.8"/>
<polyline points="90.7,484.0 146.9,578.5 203.0,611.1 259.1,624.0 315.3,636.4" stroke="#b96218" stroke-width="3.2" stroke-dasharray="12.8 12.8"/>
<polyline points="90.7,484.0 146.9,569.4 203.0,595.8 259.1,604.3 315.3,615.0" stroke="#ac5816" stroke-width="3.2" stroke-dasharray="12.8 12.8"/>
<polyline points="90.7,484.0 146.9,541.7 203.0,555.9 259.1,571.6 315.3,584.2" stroke="#9f4e13" stroke-width="3.2" stroke-dasharray="12.8 12.8"/>
<polyline points="90.7,484.0 146.9,540.6 203.0,544.1 259.1,547.4 315.3,559.0" stroke="#924411" stroke-width="3.2" stroke-dasharray="12.8 12.8"/>
<polyline points="90.7,484.0 146.9,514.2 203.0,522.2 259.1,536.2 315.3,541.9" stroke="#853a0e" stroke-width="3.2" stroke-dasharray="12.8 12.8"/>
</g>
<rect x="79.5" y="470.5" width="247.0" height="302.0" fill="none" stroke="#333" stroke-width="1.1"/>
<rect x="79.5" y="448.5" width="247.0" height="22.0" fill="#d9d9d9" stroke="#333" stroke-width="1.1"/>
<text x="203.0" y="463.9" text-anchor="middle" font-size="11" fill="#1a1a1a" stroke="#1a1a1a">Final Energy</text>
<line x1="75.4" x2="79.5" y1="758.6" y2="758.6" stroke="#333" stroke-width="1.1"/><text x="73.1" y="763.0" text-anchor="end" font-size="11" fill="#4d4d4d" stroke="#4d4d4d">0.00</text><line x1="75.4" x2="79.5" y1="690.0" y2="690.0" stroke="#333" stroke-width="1.1"/><text x="73.1" y="694.4" text-anchor="end" font-size="11" fill="#4d4d4d" stroke="#4d4d4d">0.25</text><line x1="75.4" x2="79.5" y1="621.3" y2="621.3" stroke="#333" stroke-width="1.1"/><text x="73.1" y="625.7" text-anchor="end" font-size="11" fill="#4d4d4d" stroke="#4d4d4d">0.50</text><line x1="75.4" x2="79.5" y1="552.6" y2="552.6" stroke="#333" stroke-width="1.1"/><text x="73.1" y="557.0" text-anchor="end" font-size="11" fill="#4d4d4d" stroke="#4d4d4d">0.75</text><line x1="75.4" x2="79.5" y1="484.0" y2="484.0" stroke="#333" stroke-width="1.1"/><text x="73.1" y="488.4" text-anchor="end" font-size="11" fill="#4d4d4d" stroke="#4d4d4d">1.00</text><line x1="90.7" x2="90.7" y1="772.5" y2="776.1" stroke="#333" stroke-width="1.1"/><text x="90.7" y="786.1" text-anchor="middle" font-size="11" fill="#4d4d4d" stroke="#4d4d4d">2020</text><line x1="146.9" x2="146.9" y1="772.5" y2="776.1" stroke="#333" stroke-width="1.1"/><text x="146.9" y="786.1" text-anchor="middle" font-size="11" fill="#4d4d4d" stroke="#4d4d4d">2030</text><line x1="203.0" x2="203.0" y1="772.5" y2="776.1" stroke="#333" stroke-width="1.1"/><text x="203.0" y="786.1" text-anchor="middle" font-size="11" fill="#4d4d4d" stroke="#4d4d4d">2040</text><line x1="259.1" x2="259.1" y1="772.5" y2="776.1" stroke="#333" stroke-width="1.1"/><text x="259.1" y="786.1" text-anchor="middle" font-size="11" fill="#4d4d4d" stroke="#4d4d4d">2050</text><line x1="315.3" x2="315.3" y1="772.5" y2="776.1" stroke="#333" stroke-width="1.1"/><text x="315.3" y="786.1" text-anchor="middle" font-size="11" fill="#4d4d4d" stroke="#4d4d4d">2060</text>
</g>
<g>
<rect x="354.5" y="470.5" width="247.0" height="302.0" fill="#fff"/>
<line x1="354.5" x2="601.5" y1="721.0" y2="721.0" stroke="#ebebeb" stroke-width="1"/><line x1="354.5" x2="601.5" y1="645.9" y2="645.9" stroke="#ebebeb" stroke-width="1"/><line x1="354.5" x2="601.5" y1="570.9" y2="570.9" stroke="#ebebeb" stroke-width="1"/><line x1="354.5" x2="601.5" y1="495.8" y2="495.8" stroke="#ebebeb" stroke-width="1"/><line x1="393.8" x2="393.8" y1="470.5" y2="772.5" stroke="#ebebeb" stroke-width="1"/><line x1="449.9" x2="449.9" y1="470.5" y2="772.5" stroke="#ebebeb" stroke-width="1"/><line x1="506.1" x2="506.1" y1="470.5" y2="772.5" stroke="#ebebeb" stroke-width="1"/><line x1="562.2" x2="562.2" y1="470.5" y2="772.5" stroke="#ebebeb" stroke-width="1"/><line x1="354.5" x2="601.5" y1="758.5" y2="758.5" stroke="#ebebeb" stroke-width="2.2"/><line x1="354.5" x2="601.5" y1="683.5" y2="683.5" stroke="#ebebeb" stroke-width="2.2"/><line x1="354.5" x2="601.5" y1="608.4" y2="608.4" stroke="#ebebeb" stroke-width="2.2"/><line x1="354.5" x2="601.5" y1="533.4" y2="533.4" stroke="#ebebeb" stroke-width="2.2"/><line x1="365.7" x2="365.7" y1="470.5" y2="772.5" stroke="#ebebeb" stroke-width="2.2"/><line x1="421.9" x2="421.9" y1="470.5" y2="772.5" stroke="#ebebeb" stroke-width="2.2"/><line x1="478.0" x2="478.0" y1="470.5" y2="772.5" stroke="#ebebeb" stroke-width="2.2"/><line x1="534.1" x2="534.1" y1="470.5" y2="772.5" stroke="#ebebeb" stroke-width="2.2"/><line x1="590.3" x2="590.3" y1="470.5" y2="772.5" stroke="#ebebeb" stroke-width="2.2"/>
<g clip-path="url(#cbGDP)" fill="none" stroke-linejoin="round">
<line x1="353.1" x2="601.5" y1="758.5" y2="758.5" stroke="#000" stroke-width="1.35" stroke-dasharray="6.3 4.48"/>
<line x1="353.1" x2="601.5" y1="608.4" y2="608.4" stroke="#000" stroke-width="1.35" stroke-dasharray="6.3 4.48"/>
<g stroke="#bebebe" stroke-width="1.4" stroke-opacity="0.4">
<polyline points="365.7,608.4 421.9,589.9 478.0,567.4 534.1,543.7 590.3,510.5"/><polyline points="365.7,608.4 421.9,588.6 478.0,567.2 534.1,544.1 590.3,510.1"/><polyline points="365.7,608.4 421.9,584.7 478.0,561.1 534.1,523.2 590.3,483.8"/><polyline points="365.7,608.4 421.9,590.7 478.0,570.6 534.1,544.7 590.3,514.9"/><polyline points="365.7,608.4 421.9,587.0 478.0,565.1 534.1,534.9 590.3,497.0"/><polyline points="365.7,608.4 421.9,587.6 478.0,563.9 534.1,533.7 590.3,499.5"/><polyline points="365.7,608.4 421.9,591.8 478.0,569.5 534.1,547.4 590.3,516.6"/><polyline points="365.7,608.4 421.9,594.6 478.0,578.3 534.1,559.0 590.3,533.4"/><polyline points="365.7,608.4 421.9,587.7 478.0,562.1 534.1,526.6 590.3,486.7"/><polyline points="365.7,608.4 421.9,587.8 478.0,565.2 534.1,536.6 590.3,505.8"/><polyline points="365.7,608.4 421.9,591.7 478.0,573.6 534.1,547.2 590.3,519.3"/><polyline points="365.7,608.4 421.9,589.1 478.0,566.9 534.1,540.9 590.3,508.2"/><polyline points="365.7,608.4 421.9,594.9 478.0,576.3 534.1,558.5 590.3,533.4"/><polyline points="365.7,608.4 421.9,590.8 478.0,571.2 534.1,549.5 590.3,519.9"/><polyline points="365.7,608.4 421.9,589.6 478.0,566.0 534.1,544.5 590.3,511.4"/><polyline points="365.7,608.4 421.9,588.8 478.0,565.4 534.1,537.8 590.3,503.4"/><polyline points="365.7,608.4 421.9,587.3 478.0,562.8 534.1,531.9 590.3,494.4"/><polyline points="365.7,608.4 421.9,591.3 478.0,572.9 534.1,554.3 590.3,524.0"/><polyline points="365.7,608.4 421.9,588.3 478.0,569.9 534.1,543.6 590.3,512.9"/><polyline points="365.7,608.4 421.9,590.1 478.0,565.7 534.1,539.6 590.3,505.7"/>
</g>
<g stroke="#7a6db1" stroke-width="3.0">
<polyline points="365.7,608.4 421.9,584.4 478.0,558.1 534.1,529.6 590.3,491.3"/><polyline points="365.7,608.4 421.9,592.6 478.0,576.1 534.1,555.3 590.3,532.0"/>
</g>
<polyline points="365.7,608.4 421.9,697.4 478.0,719.3 534.1,718.7 590.3,719.3" stroke="#e08020" stroke-width="3.2" stroke-dasharray="12.8 12.8"/>
<polyline points="365.7,608.4 421.9,672.9 478.0,683.0 534.1,685.0 590.3,688.7" stroke="#d3761d" stroke-width="3.2" stroke-dasharray="12.8 12.8"/>
<polyline points="365.7,608.4 421.9,651.6 478.0,651.9 534.1,653.4 590.3,655.1" stroke="#c66c1b" stroke-width="3.2" stroke-dasharray="12.8 12.8"/>
<polyline points="365.7,608.4 421.9,613.7 478.0,616.7 534.1,618.2 590.3,620.3" stroke="#b96218" stroke-width="3.2" stroke-dasharray="12.8 12.8"/>
<polyline points="365.7,608.4 421.9,602.4 478.0,598.6 534.1,596.4 590.3,594.9" stroke="#ac5816" stroke-width="3.2" stroke-dasharray="12.8 12.8"/>
<polyline points="365.7,608.4 421.9,574.6 478.0,548.4 534.1,551.4 590.3,554.4" stroke="#9f4e13" stroke-width="3.2" stroke-dasharray="12.8 12.8"/>
<polyline points="365.7,608.4 421.9,574.2 478.0,540.6 534.1,525.1 590.3,525.1" stroke="#924411" stroke-width="3.2" stroke-dasharray="12.8 12.8"/>
<polyline points="365.7,608.4 421.9,573.9 478.0,540.0 534.1,519.2 590.3,501.8" stroke="#853a0e" stroke-width="3.2" stroke-dasharray="12.8 12.8"/>
</g>
<rect x="354.5" y="470.5" width="247.0" height="302.0" fill="none" stroke="#333" stroke-width="1.1"/>
<rect x="354.5" y="448.5" width="247.0" height="22.0" fill="#d9d9d9" stroke="#333" stroke-width="1.1"/>
<text x="478.0" y="463.9" text-anchor="middle" font-size="11" fill="#1a1a1a" stroke="#1a1a1a">GDP (PPP)</text>
<line x1="350.4" x2="354.5" y1="758.5" y2="758.5" stroke="#333" stroke-width="1.1"/><text x="348.1" y="762.9" text-anchor="end" font-size="11" fill="#4d4d4d" stroke="#4d4d4d">0.0</text><line x1="350.4" x2="354.5" y1="683.5" y2="683.5" stroke="#333" stroke-width="1.1"/><text x="348.1" y="687.9" text-anchor="end" font-size="11" fill="#4d4d4d" stroke="#4d4d4d">0.5</text><line x1="350.4" x2="354.5" y1="608.4" y2="608.4" stroke="#333" stroke-width="1.1"/><text x="348.1" y="612.8" text-anchor="end" font-size="11" fill="#4d4d4d" stroke="#4d4d4d">1.0</text><line x1="350.4" x2="354.5" y1="533.4" y2="533.4" stroke="#333" stroke-width="1.1"/><text x="348.1" y="537.8" text-anchor="end" font-size="11" fill="#4d4d4d" stroke="#4d4d4d">1.5</text><line x1="365.7" x2="365.7" y1="772.5" y2="776.1" stroke="#333" stroke-width="1.1"/><text x="365.7" y="786.1" text-anchor="middle" font-size="11" fill="#4d4d4d" stroke="#4d4d4d">2020</text><line x1="421.9" x2="421.9" y1="772.5" y2="776.1" stroke="#333" stroke-width="1.1"/><text x="421.9" y="786.1" text-anchor="middle" font-size="11" fill="#4d4d4d" stroke="#4d4d4d">2030</text><line x1="478.0" x2="478.0" y1="772.5" y2="776.1" stroke="#333" stroke-width="1.1"/><text x="478.0" y="786.1" text-anchor="middle" font-size="11" fill="#4d4d4d" stroke="#4d4d4d">2040</text><line x1="534.1" x2="534.1" y1="772.5" y2="776.1" stroke="#333" stroke-width="1.1"/><text x="534.1" y="786.1" text-anchor="middle" font-size="11" fill="#4d4d4d" stroke="#4d4d4d">2050</text><line x1="590.3" x2="590.3" y1="772.5" y2="776.1" stroke="#333" stroke-width="1.1"/><text x="590.3" y="786.1" text-anchor="middle" font-size="11" fill="#4d4d4d" stroke="#4d4d4d">2060</text>
</g>
<g>
<rect x="629.5" y="470.5" width="247.0" height="302.0" fill="#fff"/>
<line x1="629.5" x2="876.5" y1="738.3" y2="738.3" stroke="#ebebeb" stroke-width="1"/><line x1="629.5" x2="876.5" y1="636.5" y2="636.5" stroke="#ebebeb" stroke-width="1"/><line x1="629.5" x2="876.5" y1="534.7" y2="534.7" stroke="#ebebeb" stroke-width="1"/><line x1="668.8" x2="668.8" y1="470.5" y2="772.5" stroke="#ebebeb" stroke-width="1"/><line x1="724.9" x2="724.9" y1="470.5" y2="772.5" stroke="#ebebeb" stroke-width="1"/><line x1="781.1" x2="781.1" y1="470.5" y2="772.5" stroke="#ebebeb" stroke-width="1"/><line x1="837.2" x2="837.2" y1="470.5" y2="772.5" stroke="#ebebeb" stroke-width="1"/><line x1="629.5" x2="876.5" y1="687.4" y2="687.4" stroke="#ebebeb" stroke-width="2.2"/><line x1="629.5" x2="876.5" y1="585.6" y2="585.6" stroke="#ebebeb" stroke-width="2.2"/><line x1="629.5" x2="876.5" y1="483.8" y2="483.8" stroke="#ebebeb" stroke-width="2.2"/><line x1="640.7" x2="640.7" y1="470.5" y2="772.5" stroke="#ebebeb" stroke-width="2.2"/><line x1="696.9" x2="696.9" y1="470.5" y2="772.5" stroke="#ebebeb" stroke-width="2.2"/><line x1="753.0" x2="753.0" y1="470.5" y2="772.5" stroke="#ebebeb" stroke-width="2.2"/><line x1="809.1" x2="809.1" y1="470.5" y2="772.5" stroke="#ebebeb" stroke-width="2.2"/><line x1="865.3" x2="865.3" y1="470.5" y2="772.5" stroke="#ebebeb" stroke-width="2.2"/>
<g clip-path="url(#cbGHG)" fill="none" stroke-linejoin="round">
<line x1="628.1" x2="876.5" y1="687.4" y2="687.4" stroke="#000" stroke-width="1.35" stroke-dasharray="6.3 4.48"/>
<line x1="628.1" x2="876.5" y1="483.8" y2="483.8" stroke="#000" stroke-width="1.35" stroke-dasharray="6.3 4.48"/>
<g stroke="#bebebe" stroke-width="1.4" stroke-opacity="0.4">
<polyline points="640.7,483.8 696.9,600.6 753.0,674.2 809.1,693.4 865.3,708.2"/><polyline points="640.7,483.8 696.9,610.7 753.0,683.0 809.1,716.4 865.3,741.8"/><polyline points="640.7,483.8 696.9,568.4 753.0,630.2 809.1,660.2 865.3,674.2"/><polyline points="640.7,483.8 696.9,586.3 753.0,635.1 809.1,679.7 865.3,658.2"/><polyline points="640.7,483.8 696.9,586.5 753.0,677.8 809.1,721.0 865.3,712.2"/><polyline points="640.7,483.8 696.9,563.4 753.0,627.2 809.1,652.3 865.3,654.8"/><polyline points="640.7,483.8 696.9,582.8 753.0,656.0 809.1,689.1 865.3,718.7"/><polyline points="640.7,483.8 696.9,597.9 753.0,671.2 809.1,681.1 865.3,666.0"/><polyline points="640.7,483.8 696.9,587.2 753.0,652.4 809.1,717.4 865.3,721.8"/><polyline points="640.7,483.8 696.9,579.4 753.0,623.7 809.1,659.2 865.3,674.4"/><polyline points="640.7,483.8 696.9,593.2 753.0,669.2 809.1,726.9 865.3,742.7"/><polyline points="640.7,483.8 696.9,586.1 753.0,644.8 809.1,689.9 865.3,686.1"/><polyline points="640.7,483.8 696.9,565.4 753.0,618.6 809.1,658.3 865.3,654.8"/><polyline points="640.7,483.8 696.9,603.8 753.0,653.9 809.1,697.5 865.3,706.6"/><polyline points="640.7,483.8 696.9,583.3 753.0,658.8 809.1,679.6 865.3,698.9"/><polyline points="640.7,483.8 696.9,596.7 753.0,645.6 809.1,672.0 865.3,693.4"/><polyline points="640.7,483.8 696.9,551.6 753.0,605.4 809.1,632.4 865.3,654.8"/><polyline points="640.7,483.8 696.9,584.3 753.0,651.9 809.1,693.4 865.3,705.0"/><polyline points="640.7,483.8 696.9,557.1 753.0,619.3 809.1,660.9 865.3,666.1"/><polyline points="640.7,483.8 696.9,604.3 753.0,634.2 809.1,669.7 865.3,670.8"/><polyline points="640.7,483.8 696.9,595.7 753.0,648.4 809.1,684.1 865.3,693.9"/><polyline points="640.7,483.8 696.9,626.3 753.0,682.3 809.1,724.2 865.3,736.6"/><polyline points="640.7,483.8 696.9,590.0 753.0,653.6 809.1,662.5 865.3,675.0"/><polyline points="640.7,483.8 696.9,591.2 753.0,653.2 809.1,698.5 865.3,708.2"/><polyline points="640.7,483.8 696.9,608.6 753.0,641.6 809.1,668.6 865.3,676.6"/><polyline points="640.7,483.8 696.9,581.1 753.0,656.6 809.1,697.5 865.3,709.5"/><polyline points="640.7,483.8 696.9,621.3 753.0,687.4 809.1,724.7 865.3,758.0"/><polyline points="640.7,483.8 696.9,570.2 753.0,620.6 809.1,656.8 865.3,672.7"/><polyline points="640.7,483.8 696.9,604.5 753.0,642.4 809.1,684.2 865.3,685.9"/><polyline points="640.7,483.8 696.9,589.4 753.0,651.9 809.1,681.9 865.3,699.6"/>
</g>
<g stroke="#7a6db1" stroke-width="3.0">
<polyline points="640.7,483.8 696.9,593.7 753.0,650.3 809.1,670.5 865.3,680.9"/><polyline points="640.7,483.8 696.9,611.0 753.0,664.8 809.1,678.6 865.3,682.1"/>
</g>
<polyline points="640.7,483.8 696.9,640.1 753.0,683.1 809.1,686.9 865.3,687.4" stroke="#e08020" stroke-width="3.2" stroke-dasharray="12.8 12.8"/>
<polyline points="640.7,483.8 696.9,639.8 753.0,682.5 809.1,686.6 865.3,687.4" stroke="#d3761d" stroke-width="3.2" stroke-dasharray="12.8 12.8"/>
<polyline points="640.7,483.8 696.9,639.5 753.0,681.9 809.1,686.3 865.3,687.4" stroke="#c66c1b" stroke-width="3.2" stroke-dasharray="12.8 12.8"/>
<polyline points="640.7,483.8 696.9,639.1 753.0,681.3 809.1,686.0 865.3,687.4" stroke="#b96218" stroke-width="3.2" stroke-dasharray="12.8 12.8"/>
<polyline points="640.7,483.8 696.9,638.8 753.0,680.7 809.1,685.7 865.3,687.4" stroke="#ac5816" stroke-width="3.2" stroke-dasharray="12.8 12.8"/>
<polyline points="640.7,483.8 696.9,638.5 753.0,680.1 809.1,685.4 865.3,687.4" stroke="#9f4e13" stroke-width="3.2" stroke-dasharray="12.8 12.8"/>
<polyline points="640.7,483.8 696.9,638.2 753.0,679.5 809.1,685.1 865.3,687.4" stroke="#924411" stroke-width="3.2" stroke-dasharray="12.8 12.8"/>
<polyline points="640.7,483.8 696.9,637.9 753.0,678.8 809.1,684.8 865.3,687.4" stroke="#853a0e" stroke-width="3.2" stroke-dasharray="12.8 12.8"/>
</g>
<rect x="629.5" y="470.5" width="247.0" height="302.0" fill="none" stroke="#333" stroke-width="1.1"/>
<rect x="629.5" y="448.5" width="247.0" height="22.0" fill="#d9d9d9" stroke="#333" stroke-width="1.1"/>
<text x="753.0" y="463.9" text-anchor="middle" font-size="11" fill="#1a1a1a" stroke="#1a1a1a">GHG emissions</text>
<line x1="625.4" x2="629.5" y1="687.4" y2="687.4" stroke="#333" stroke-width="1.1"/><text x="623.1" y="691.8" text-anchor="end" font-size="11" fill="#4d4d4d" stroke="#4d4d4d">0.0</text><line x1="625.4" x2="629.5" y1="585.6" y2="585.6" stroke="#333" stroke-width="1.1"/><text x="623.1" y="590.0" text-anchor="end" font-size="11" fill="#4d4d4d" stroke="#4d4d4d">0.5</text><line x1="625.4" x2="629.5" y1="483.8" y2="483.8" stroke="#333" stroke-width="1.1"/><text x="623.1" y="488.2" text-anchor="end" font-size="11" fill="#4d4d4d" stroke="#4d4d4d">1.0</text><line x1="640.7" x2="640.7" y1="772.5" y2="776.1" stroke="#333" stroke-width="1.1"/><text x="640.7" y="786.1" text-anchor="middle" font-size="11" fill="#4d4d4d" stroke="#4d4d4d">2020</text><line x1="696.9" x2="696.9" y1="772.5" y2="776.1" stroke="#333" stroke-width="1.1"/><text x="696.9" y="786.1" text-anchor="middle" font-size="11" fill="#4d4d4d" stroke="#4d4d4d">2030</text><line x1="753.0" x2="753.0" y1="772.5" y2="776.1" stroke="#333" stroke-width="1.1"/><text x="753.0" y="786.1" text-anchor="middle" font-size="11" fill="#4d4d4d" stroke="#4d4d4d">2040</text><line x1="809.1" x2="809.1" y1="772.5" y2="776.1" stroke="#333" stroke-width="1.1"/><text x="809.1" y="786.1" text-anchor="middle" font-size="11" fill="#4d4d4d" stroke="#4d4d4d">2050</text><line x1="865.3" x2="865.3" y1="772.5" y2="776.1" stroke="#333" stroke-width="1.1"/><text x="865.3" y="786.1" text-anchor="middle" font-size="11" fill="#4d4d4d" stroke="#4d4d4d">2060</text>
</g>
<line x1="248.6" y1="260.4" x2="217.8" y2="360.6" stroke="#7a6db1" stroke-width="2.5"/>
<text x="126.5" y="355.8" font-size="13.75" fill="#7a6db1" stroke="#7a6db1">Illustrative</text>
<text x="126.5" y="372" font-size="13.75" fill="#7a6db1" stroke="#7a6db1">mitigation pathways</text>
<line x1="469.3" y1="155.9" x2="531.3" y2="181.9" stroke="#aaaaaa" stroke-width="2.6"/>
<text x="401" y="147.3" font-size="13.75" fill="#aaaaaa" stroke="#aaaaaa">C1-C3 scenarios</text>
<line x1="258.2" y1="627.6" x2="242.9" y2="723.6" stroke="#7a6db1" stroke-width="2.5"/>
<text x="198" y="735.8" font-size="13.75" fill="#7a6db1" stroke="#7a6db1">Illustrative</text>
<text x="198" y="752.5" font-size="13.75" fill="#7a6db1" stroke="#7a6db1">mitigation pathways</text>
<line x1="476.5" y1="518.5" x2="538.5" y2="544.5" stroke="#aaaaaa" stroke-width="2.6"/>
<text x="401" y="513" font-size="13.75" fill="#aaaaaa" stroke="#aaaaaa">C1 scenarios</text>
<text x="897.5" y="148.3" font-size="13.75" fill="#000" stroke="#000">Australia post-growth</text>
<text x="897.5" y="162.8" font-size="13.75" fill="#000" stroke="#000">mitigation pathways</text>
<text x="897.5" y="177.3" font-size="13.75" fill="#000" stroke="#000">(renewables only)</text>
<line x1="899" x2="913" y1="197.0" y2="197.0" stroke="#e08020" stroke-width="3.80"/>
<text x="925.5" y="200.9" font-size="11" fill="#000" stroke="#000">SSP2 10k (renewables)</text>
<line x1="899" x2="913" y1="218.7" y2="218.7" stroke="#d3761d" stroke-width="3.94"/>
<text x="925.5" y="222.6" font-size="11" fill="#000" stroke="#000">SSP2 20k (renewables)</text>
<line x1="899" x2="913" y1="240.4" y2="240.4" stroke="#c66c1b" stroke-width="4.08"/>
<text x="925.5" y="244.3" font-size="11" fill="#000" stroke="#000">SSP2 30k (renewables)</text>
<line x1="899" x2="913" y1="262.1" y2="262.1" stroke="#b96218" stroke-width="4.22"/>
<text x="925.5" y="266.0" font-size="11" fill="#000" stroke="#000">SSP2 40k (renewables)</text>
<line x1="899" x2="913" y1="283.8" y2="283.8" stroke="#ac5816" stroke-width="4.36"/>
<text x="925.5" y="287.7" font-size="11" fill="#000" stroke="#000">SSP2 50k (renewables)</text>
<line x1="899" x2="913" y1="305.5" y2="305.5" stroke="#9f4e13" stroke-width="4.50"/>
<text x="925.5" y="309.4" font-size="11" fill="#000" stroke="#000">SSP2 60k (renewables)</text>
<line x1="899" x2="913" y1="327.2" y2="327.2" stroke="#924411" stroke-width="4.64"/>
<text x="925.5" y="331.1" font-size="11" fill="#000" stroke="#000">SSP2 70k (renewables)</text>
<line x1="899" x2="913" y1="348.9" y2="348.9" stroke="#853a0e" stroke-width="4.78"/>
<text x="925.5" y="352.8" font-size="11" fill="#000" stroke="#000">SSP2 baseline (renewables)</text>
<text x="899" y="521.8" font-size="13.75" fill="#000" stroke="#000">Australia post-growth</text>
<text x="899" y="536.3" font-size="13.75" fill="#000" stroke="#000">mitigation pathways</text>
<text x="899" y="550.8" font-size="13.75" fill="#000" stroke="#000">(1.5C compatible)</text>
<line x1="901" x2="915" y1="570.5" y2="570.5" stroke="#e08020" stroke-width="3.80"/>
<text x="927.5" y="574.4" font-size="11" fill="#000" stroke="#000">SSP2 10k (4GtCO2eq)</text>
<line x1="901" x2="915" y1="592.2" y2="592.2" stroke="#d3761d" stroke-width="3.94"/>
<text x="927.5" y="596.1" font-size="11" fill="#000" stroke="#000">SSP2 20k (4GtCO2eq)</text>
<line x1="901" x2="915" y1="613.9" y2="613.9" stroke="#c66c1b" stroke-width="4.08"/>
<text x="927.5" y="617.8" font-size="11" fill="#000" stroke="#000">SSP2 30k (4GtCO2eq)</text>
<line x1="901" x2="915" y1="635.6" y2="635.6" stroke="#b96218" stroke-width="4.22"/>
<text x="927.5" y="639.5" font-size="11" fill="#000" stroke="#000">SSP2 40k (4GtCO2eq)</text>
<line x1="901" x2="915" y1="657.3" y2="657.3" stroke="#ac5816" stroke-width="4.36"/>
<text x="927.5" y="661.2" font-size="11" fill="#000" stroke="#000">SSP2 50k (4GtCO2eq)</text>
<line x1="901" x2="915" y1="679.0" y2="679.0" stroke="#9f4e13" stroke-width="4.50"/>
<text x="927.5" y="682.9" font-size="11" fill="#000" stroke="#000">SSP2 60k (4GtCO2eq)</text>
<line x1="901" x2="915" y1="700.7" y2="700.7" stroke="#924411" stroke-width="4.64"/>
<text x="927.5" y="704.6" font-size="11" fill="#000" stroke="#000">SSP2 70k (4GtCO2eq)</text>
<line x1="901" x2="915" y1="722.4" y2="722.4" stroke="#853a0e" stroke-width="4.78"/>
<text x="927.5" y="726.3" font-size="11" fill="#000" stroke="#000">SSP2 baseline (4GtCO2eq)</text>
</svg></div></body></html>
